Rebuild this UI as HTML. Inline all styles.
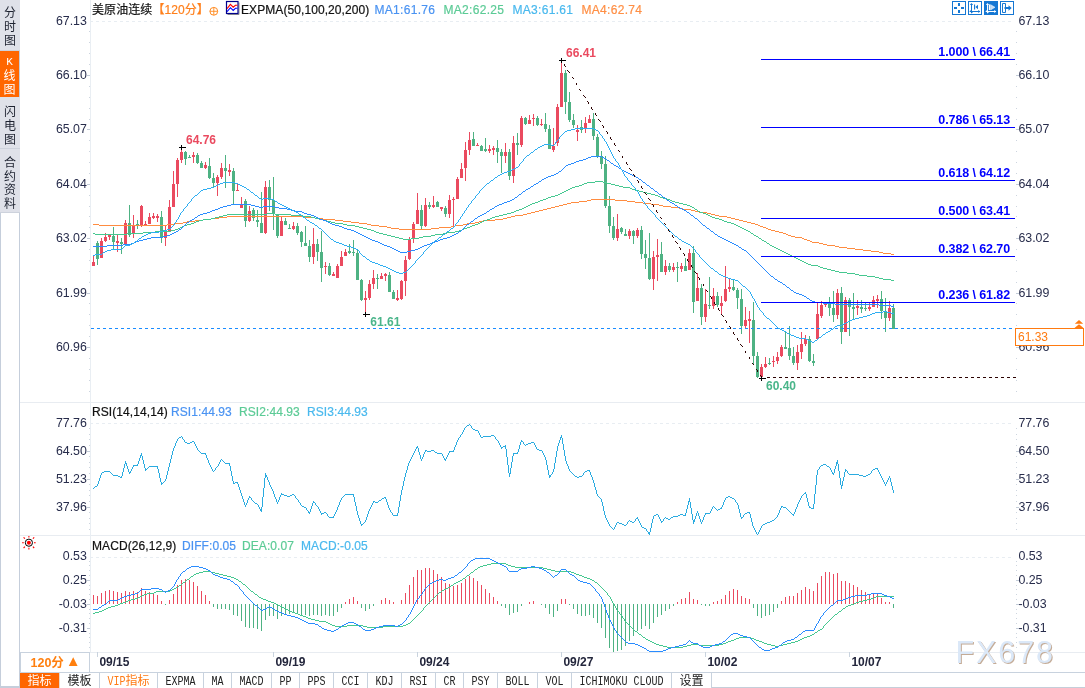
<!DOCTYPE html>
<html lang="zh-CN"><head><meta charset="utf-8"><title>美原油连续 120分</title>
<style>
*{box-sizing:border-box;margin:0;padding:0}
html,body{width:1085px;height:688px;background:#fff;overflow:hidden}
body{position:relative;font-family:"Liberation Sans","Noto Sans CJK SC",sans-serif;color:#111}
#chart{position:absolute;left:0;top:0;width:1085px;height:688px}
#chart text{font-family:"Liberation Sans","Noto Sans CJK SC",sans-serif}
.side{position:absolute;left:0;top:0;width:20px;height:688px;background:#fff;border-left:1px solid #c5cedb;border-right:1px solid #c5cedb;border-bottom:2px solid #c5cedb}
.stab{position:absolute;left:0;width:20px;background:#dfe1e9;color:#1d2230;font-size:12px;line-height:14.2px;text-align:center;border-bottom:1px solid #cdd2dc;font-family:"Liberation Sans","Noto Sans CJK SC",sans-serif}
.stab.on{background:#ff6600;color:#fff;width:19px;border-bottom:0}
.stab span{display:block}
.hdr{position:absolute;top:2.1px;font-size:12px;line-height:16px;white-space:nowrap;letter-spacing:0.08px;-webkit-text-stroke:0.2px currentColor}
.bot{position:absolute;left:20px;top:672px;width:1065px;height:16px;border-top:1px solid #c8d2de;border-bottom:1px solid #c5ced9;background:#fff}
.tab{position:absolute;top:672px;height:16px;font-size:12px;line-height:16px;text-align:center;border-right:1px solid #c8d2de;border-top:1px solid #c8d2de;color:#222;white-space:nowrap;background:#fff;font-family:"Liberation Sans","Noto Sans CJK SC",sans-serif}
.tab .mono{display:inline-block;font-family:"Liberation Mono",monospace;font-size:10px;line-height:15px;transform:translateY(1.5px) scaleY(1.2);transform-origin:50% 60%;vertical-align:top}
.tab.on{background:#ff6600;color:#fff;border-top-color:#ff6600;border-right-color:#e8d8cc}
.tab.vip{color:#ff7a14}
.per{position:absolute;left:20px;top:652px;width:70px;height:21px;border:1px solid #c8d2de;background:#fff;color:#ff7f0e;font-weight:bold;font-size:12.5px;line-height:21px;text-align:left;padding-left:9.5px;white-space:pre}
</style></head><body>
<svg id="chart" width="1085" height="688" viewBox="0 0 1085 688">
<line x1="90" y1="21.5" x2="1014" y2="21.5" stroke="#e8edf2" stroke-width="1" stroke-dasharray="3 3"/>
<line x1="90" y1="423.5" x2="1014" y2="423.5" stroke="#e8edf2" stroke-width="1" stroke-dasharray="3 3"/>
<line x1="90" y1="557.5" x2="1014" y2="557.5" stroke="#e8edf2" stroke-width="1" stroke-dasharray="3 3"/>
<line x1="20" y1="402.5" x2="1085" y2="402.5" stroke="#e8ecf1" stroke-width="1"/>
<line x1="20" y1="535.5" x2="1085" y2="535.5" stroke="#e8ecf1" stroke-width="1"/>
<line x1="20" y1="652.5" x2="1085" y2="652.5" stroke="#e8ecf1" stroke-width="1"/>
<path d="M90 0h1v652h-1z" fill="#e9eef3" shape-rendering="crispEdges"/>
<path d="M89 31h1v1h-1zM1016 31h1v1h-1zM89 42h1v1h-1zM1016 42h1v1h-1zM89 53h1v1h-1zM1016 53h1v1h-1zM89 64h1v1h-1zM1016 64h1v1h-1zM89 86h1v1h-1zM1016 86h1v1h-1zM89 97h1v1h-1zM1016 97h1v1h-1zM89 108h1v1h-1zM1016 108h1v1h-1zM89 119h1v1h-1zM1016 119h1v1h-1zM89 140h1v1h-1zM1016 140h1v1h-1zM89 151h1v1h-1zM1016 151h1v1h-1zM89 162h1v1h-1zM1016 162h1v1h-1zM89 173h1v1h-1zM1016 173h1v1h-1zM89 195h1v1h-1zM1016 195h1v1h-1zM89 206h1v1h-1zM1016 206h1v1h-1zM89 216h1v1h-1zM1016 216h1v1h-1zM89 227h1v1h-1zM1016 227h1v1h-1zM89 249h1v1h-1zM1016 249h1v1h-1zM89 260h1v1h-1zM1016 260h1v1h-1zM89 271h1v1h-1zM1016 271h1v1h-1zM89 282h1v1h-1zM1016 282h1v1h-1zM89 303h1v1h-1zM1016 303h1v1h-1zM89 314h1v1h-1zM1016 314h1v1h-1zM89 325h1v1h-1zM1016 325h1v1h-1zM89 336h1v1h-1zM1016 336h1v1h-1zM89 358h1v1h-1zM1016 358h1v1h-1zM89 369h1v1h-1zM1016 369h1v1h-1zM89 380h1v1h-1zM1016 380h1v1h-1zM89 391h1v1h-1zM1016 391h1v1h-1zM89 428h1v1h-1zM1016 428h1v1h-1zM89 434h1v1h-1zM1016 434h1v1h-1zM89 439h1v1h-1zM1016 439h1v1h-1zM89 445h1v1h-1zM1016 445h1v1h-1zM89 456h1v1h-1zM1016 456h1v1h-1zM89 462h1v1h-1zM1016 462h1v1h-1zM89 467h1v1h-1zM1016 467h1v1h-1zM89 473h1v1h-1zM1016 473h1v1h-1zM89 484h1v1h-1zM1016 484h1v1h-1zM89 490h1v1h-1zM1016 490h1v1h-1zM89 495h1v1h-1zM1016 495h1v1h-1zM89 501h1v1h-1zM1016 501h1v1h-1zM89 512h1v1h-1zM1016 512h1v1h-1zM89 518h1v1h-1zM1016 518h1v1h-1zM89 523h1v1h-1zM1016 523h1v1h-1zM89 529h1v1h-1zM1016 529h1v1h-1zM89 561h1v1h-1zM1016 561h1v1h-1zM89 565h1v1h-1zM1016 565h1v1h-1zM89 570h1v1h-1zM1016 570h1v1h-1zM89 575h1v1h-1zM1016 575h1v1h-1zM89 585h1v1h-1zM1016 585h1v1h-1zM89 589h1v1h-1zM1016 589h1v1h-1zM89 594h1v1h-1zM1016 594h1v1h-1zM89 599h1v1h-1zM1016 599h1v1h-1zM89 609h1v1h-1zM1016 609h1v1h-1zM89 613h1v1h-1zM1016 613h1v1h-1zM89 618h1v1h-1zM1016 618h1v1h-1zM89 623h1v1h-1zM1016 623h1v1h-1zM89 633h1v1h-1zM1016 633h1v1h-1zM89 637h1v1h-1zM1016 637h1v1h-1zM89 642h1v1h-1zM1016 642h1v1h-1zM89 647h1v1h-1zM1016 647h1v1h-1z" fill="#cdd5df" shape-rendering="crispEdges"/>
<path d="M87 75h3v1h-3zM1016 75h3v1h-3zM87 129h3v1h-3zM1016 129h3v1h-3zM87 184h3v1h-3zM1016 184h3v1h-3zM87 238h3v1h-3zM1016 238h3v1h-3zM87 293h3v1h-3zM1016 293h3v1h-3zM87 347h3v1h-3zM1016 347h3v1h-3zM87 451h3v1h-3zM1016 451h3v1h-3zM87 479h3v1h-3zM1016 479h3v1h-3zM87 507h3v1h-3zM1016 507h3v1h-3zM87 580h3v1h-3zM1016 580h3v1h-3zM87 604h3v1h-3zM1016 604h3v1h-3zM87 628h3v1h-3zM1016 628h3v1h-3z" fill="#c3ccd8" shape-rendering="crispEdges"/>
<path d="M97 241h1V265h-1zM96 243h3V259h-3zM113 227h1V249h-1zM112 236h3V242h-3zM121 238h1V254h-1zM120 242h3V244h-3zM129 205h1V237h-1zM128 223h3V235h-3zM137 220h1V229h-1zM136 224h3V225h-3zM161 211h1V243h-1zM160 217h3V237h-3zM185 151h1V165h-1zM184 152h3V159h-3zM189 155h1V158h-1zM188 157h3V158h-3zM197 153h1V164h-1zM196 155h3V163h-3zM201 161h1V168h-1zM200 163h3V168h-3zM209 158h1V179h-1zM208 166h3V178h-3zM213 173h1V187h-1zM212 178h3V183h-3zM225 155h1V188h-1zM224 168h3V171h-3zM233 168h1V204h-1zM232 171h3V191h-3zM245 199h1V227h-1zM244 201h3V221h-3zM253 208h1V221h-1zM252 210h3V218h-3zM257 210h1V227h-1zM256 220h3V222h-3zM261 192h1V233h-1zM260 223h3V233h-3zM269 180h1V211h-1zM268 187h3V200h-3zM273 177h1V230h-1zM272 200h3V214h-3zM277 215h1V238h-1zM276 215h3V236h-3zM285 218h1V225h-1zM284 221h3V225h-3zM289 224h1V229h-1zM288 228h3V229h-3zM297 223h1V235h-1zM296 226h3V233h-3zM301 231h1V247h-1zM300 232h3V242h-3zM305 226h1V246h-1zM304 243h3V246h-3zM309 240h1V262h-1zM308 246h3V257h-3zM317 239h1V261h-1zM316 244h3V252h-3zM321 231h1V282h-1zM320 252h3V268h-3zM329 263h1V276h-1zM328 266h3V275h-3zM349 244h1V254h-1zM348 251h3V253h-3zM353 240h1V256h-1zM352 252h3V253h-3zM357 249h1V280h-1zM356 253h3V280h-3zM361 279h1V301h-1zM360 280h3V300h-3zM377 274h1V289h-1zM376 278h3V279h-3zM389 272h1V292h-1zM388 275h3V292h-3zM393 290h1V299h-1zM392 292h3V299h-3zM421 205h1V229h-1zM420 210h3V226h-3zM429 202h1V209h-1zM428 205h3V207h-3zM437 201h1V207h-1zM436 202h3V207h-3zM445 206h1V217h-1zM444 208h3V214h-3zM473 132h1V146h-1zM472 139h3V146h-3zM481 145h1V151h-1zM480 146h3V151h-3zM485 138h1V152h-1zM484 149h3V151h-3zM497 140h1V163h-1zM496 148h3V152h-3zM501 149h1V173h-1zM500 152h3V156h-3zM509 149h1V180h-1zM508 152h3V176h-3zM517 133h1V155h-1zM516 143h3V145h-3zM525 117h1V125h-1zM524 118h3V124h-3zM537 116h1V126h-1zM536 118h3V125h-3zM545 113h1V132h-1zM544 124h3V129h-3zM549 125h1V149h-1zM548 129h3V149h-3zM565 70h1V114h-1zM564 73h3V102h-3zM569 92h1V122h-1zM568 102h3V120h-3zM573 114h1V128h-1zM572 120h3V125h-3zM581 120h1V133h-1zM580 127h3V130h-3zM593 113h1V140h-1zM592 119h3V136h-3zM597 134h1V158h-1zM596 137h3V156h-3zM601 151h1V169h-1zM600 156h3V164h-3zM605 156h1V208h-1zM604 164h3V206h-3zM609 196h1V233h-1zM608 206h3V226h-3zM613 217h1V240h-1zM612 226h3V238h-3zM621 227h1V234h-1zM620 228h3V232h-3zM625 229h1V236h-1zM624 234h3V236h-3zM633 230h1V244h-1zM632 231h3V236h-3zM641 226h1V259h-1zM640 230h3V254h-3zM645 240h1V269h-1zM644 254h3V258h-3zM649 233h1V280h-1zM648 258h3V279h-3zM661 242h1V272h-1zM660 254h3V272h-3zM669 263h1V272h-1zM668 266h3V270h-3zM677 262h1V282h-1zM676 267h3V268h-3zM685 258h1V271h-1zM684 266h3V271h-3zM693 246h1V313h-1zM692 253h3V302h-3zM701 284h1V325h-1zM700 288h3V317h-3zM709 277h1V309h-1zM708 305h3V306h-3zM717 292h1V307h-1zM716 296h3V305h-3zM733 280h1V291h-1zM732 287h3V290h-3zM737 288h1V309h-1zM736 290h3V298h-3zM741 289h1V334h-1zM740 299h3V326h-3zM753 302h1V365h-1zM752 320h3V356h-3zM757 352h1V378h-1zM756 356h3V377h-3zM769 358h1V365h-1zM768 363h3V364h-3zM785 331h1V349h-1zM784 347h3V349h-3zM789 326h1V360h-1zM788 348h3V356h-3zM793 347h1V365h-1zM792 356h3V363h-3zM809 336h1V362h-1zM808 339h3V361h-3zM813 354h1V366h-1zM812 361h3V363h-3zM829 297h1V316h-1zM828 302h3V308h-3zM833 291h1V322h-1zM832 308h3V315h-3zM841 287h1V344h-1zM840 293h3V332h-3zM849 298h1V336h-1zM848 300h3V307h-3zM853 293h1V319h-1zM852 307h3V309h-3zM861 300h1V313h-1zM860 307h3V309h-3zM865 303h1V311h-1zM864 308h3V309h-3zM881 291h1V319h-1zM880 299h3V311h-3zM885 298h1V332h-1zM884 311h3V318h-3zM893 304h1V329h-1zM892 308h3V329h-3z" fill="#4eb283" shape-rendering="crispEdges"/>
<path d="M93 256h1V266h-1zM92 262h3V266h-3zM101 238h1V258h-1zM100 241h3V258h-3zM105 233h1V242h-1zM104 237h3V241h-3zM109 235h1V240h-1zM108 235h3V237h-3zM117 235h1V252h-1zM116 241h3V243h-3zM125 220h1V246h-1zM124 223h3V245h-3zM133 215h1V238h-1zM132 226h3V234h-3zM141 205h1V227h-1zM140 206h3V226h-3zM145 221h1V226h-1zM144 224h3V226h-3zM149 213h1V224h-1zM148 217h3V224h-3zM153 213h1V219h-1zM152 216h3V218h-3zM157 214h1V222h-1zM156 216h3V218h-3zM165 226h1V246h-1zM164 231h3V238h-3zM169 200h1V232h-1zM168 207h3V232h-3zM173 171h1V207h-1zM172 184h3V207h-3zM177 158h1V197h-1zM176 160h3V184h-3zM181 148h1V163h-1zM180 152h3V160h-3zM193 152h1V163h-1zM192 155h3V157h-3zM205 162h1V169h-1zM204 165h3V168h-3zM217 175h1V196h-1zM216 177h3V183h-3zM221 163h1V179h-1zM220 168h3V177h-3zM229 164h1V176h-1zM228 170h3V172h-3zM237 184h1V191h-1zM236 190h3V191h-3zM241 197h1V208h-1zM240 204h3V208h-3zM249 206h1V222h-1zM248 211h3V221h-3zM265 181h1V234h-1zM264 187h3V233h-3zM281 217h1V236h-1zM280 221h3V236h-3zM293 222h1V230h-1zM292 226h3V229h-3zM313 228h1V264h-1zM312 244h3V257h-3zM325 262h1V274h-1zM324 266h3V267h-3zM333 272h1V276h-1zM332 274h3V276h-3zM337 264h1V278h-1zM336 266h3V278h-3zM341 251h1V266h-1zM340 257h3V266h-3zM345 249h1V256h-1zM344 252h3V256h-3zM365 291h1V314h-1zM364 298h3V300h-3zM369 280h1V300h-1zM368 284h3V298h-3zM373 270h1V289h-1zM372 278h3V284h-3zM381 273h1V279h-1zM380 276h3V279h-3zM385 273h1V281h-1zM384 274h3V276h-3zM397 290h1V301h-1zM396 298h3V300h-3zM401 280h1V300h-1zM400 281h3V299h-3zM405 256h1V296h-1zM404 260h3V281h-3zM409 237h1V260h-1zM408 240h3V259h-3zM413 222h1V243h-1zM412 224h3V239h-3zM417 193h1V224h-1zM416 210h3V224h-3zM425 198h1V227h-1zM424 205h3V226h-3zM433 196h1V208h-1zM432 205h3V207h-3zM441 207h1V211h-1zM440 207h3V209h-3zM449 195h1V218h-1zM448 200h3V214h-3zM453 197h1V227h-1zM452 199h3V200h-3zM457 177h1V199h-1zM456 179h3V199h-3zM461 163h1V178h-1zM460 169h3V178h-3zM465 142h1V181h-1zM464 150h3V168h-3zM469 132h1V155h-1zM468 140h3V150h-3zM477 143h1V146h-1zM476 145h3V146h-3zM489 145h1V153h-1zM488 149h3V151h-3zM493 146h1V155h-1zM492 148h3V150h-3zM505 143h1V163h-1zM504 152h3V156h-3zM513 136h1V183h-1zM512 143h3V176h-3zM521 116h1V147h-1zM520 118h3V145h-3zM529 115h1V124h-1zM528 120h3V124h-3zM533 114h1V126h-1zM532 118h3V119h-3zM541 119h1V126h-1zM540 124h3V125h-3zM553 128h1V152h-1zM552 146h3V150h-3zM557 104h1V146h-1zM556 107h3V143h-3zM561 60h1V107h-1zM560 73h3V107h-3zM577 125h1V141h-1zM576 130h3V132h-3zM585 117h1V133h-1zM584 123h3V129h-3zM589 115h1V123h-1zM588 119h3V123h-3zM617 214h1V241h-1zM616 229h3V238h-3zM629 229h1V239h-1zM628 231h3V236h-3zM637 228h1V238h-1zM636 230h3V236h-3zM653 251h1V290h-1zM652 257h3V279h-3zM657 239h1V281h-1zM656 255h3V257h-3zM665 260h1V275h-1zM664 266h3V272h-3zM673 263h1V272h-1zM672 267h3V270h-3zM681 263h1V272h-1zM680 266h3V269h-3zM689 249h1V270h-1zM688 253h3V270h-3zM697 273h1V301h-1zM696 288h3V301h-3zM705 289h1V322h-1zM704 304h3V317h-3zM713 288h1V309h-1zM712 296h3V306h-3zM721 296h1V315h-1zM720 303h3V306h-3zM725 266h1V302h-1zM724 289h3V301h-3zM729 279h1V292h-1zM728 287h3V289h-3zM745 307h1V328h-1zM744 320h3V326h-3zM749 311h1V343h-1zM748 319h3V321h-3zM761 364h1V378h-1zM760 367h3V377h-3zM765 357h1V368h-1zM764 364h3V367h-3zM773 356h1V367h-1zM772 361h3V362h-3zM777 352h1V364h-1zM776 357h3V361h-3zM781 345h1V357h-1zM780 347h3V356h-3zM797 345h1V370h-1zM796 352h3V363h-3zM801 332h1V359h-1zM800 344h3V352h-3zM805 335h1V346h-1zM804 339h3V344h-3zM817 303h1V339h-1zM816 314h3V339h-3zM821 301h1V318h-1zM820 305h3V316h-3zM825 303h1V307h-1zM824 304h3V305h-3zM837 289h1V319h-1zM836 293h3V315h-3zM845 297h1V332h-1zM844 300h3V332h-3zM857 300h1V315h-1zM856 306h3V308h-3zM869 303h1V311h-1zM868 307h3V309h-3zM873 296h1V307h-1zM872 300h3V307h-3zM877 295h1V308h-1zM876 299h3V301h-3zM889 301h1V321h-1zM888 308h3V318h-3z" fill="#ea4a5f" shape-rendering="crispEdges"/>
<path d="M591 199h24v1h-24zM587 200h4v1h-4zM615 200h12v1h-12zM579 201h8v1h-8zM627 201h8v1h-8zM571 202h8v1h-8zM635 202h8v1h-8zM567 203h4v1h-4zM643 203h8v1h-8zM563 204h4v1h-4zM651 204h8v1h-8zM559 205h4v1h-4zM659 205h4v1h-4zM555 206h4v1h-4zM663 206h8v1h-8zM551 207h4v1h-4zM671 207h8v1h-8zM547 208h4v1h-4zM679 208h4v1h-4zM543 209h4v1h-4zM683 209h8v1h-8zM539 210h4v1h-4zM691 210h4v1h-4zM535 211h4v1h-4zM695 211h4v1h-4zM531 212h4v1h-4zM699 212h8v1h-8zM527 213h4v1h-4zM707 213h4v1h-4zM523 214h4v1h-4zM711 214h4v1h-4zM515 215h8v1h-8zM715 215h4v1h-4zM227 216h76v1h-76zM511 216h4v1h-4zM719 216h8v1h-8zM219 217h8v1h-8zM303 217h12v1h-12zM507 217h4v1h-4zM727 217h4v1h-4zM211 218h8v1h-8zM315 218h8v1h-8zM503 218h4v1h-4zM731 218h4v1h-4zM203 219h8v1h-8zM323 219h12v1h-12zM495 219h8v1h-8zM735 219h4v1h-4zM195 220h8v1h-8zM335 220h8v1h-8zM483 220h12v1h-12zM739 220h4v1h-4zM187 221h8v1h-8zM343 221h8v1h-8zM479 221h4v1h-4zM743 221h4v1h-4zM183 222h4v1h-4zM351 222h8v1h-8zM475 222h4v1h-4zM747 222h4v1h-4zM175 223h8v1h-8zM359 223h8v1h-8zM467 223h8v1h-8zM751 223h4v1h-4zM93 224h6v1h-6zM167 224h8v1h-8zM367 224h4v1h-4zM463 224h4v1h-4zM755 224h3v1h-3zM99 225h68v1h-68zM371 225h8v1h-8zM455 225h8v1h-8zM758 225h2v1h-2zM379 226h8v1h-8zM451 226h4v1h-4zM760 226h3v1h-3zM387 227h4v1h-4zM439 227h12v1h-12zM763 227h3v1h-3zM391 228h8v1h-8zM431 228h8v1h-8zM766 228h2v1h-2zM399 229h32v1h-32zM768 229h3v1h-3zM771 230h4v1h-4zM775 231h4v1h-4zM779 232h4v1h-4zM783 233h3v1h-3zM786 234h2v1h-2zM788 235h3v1h-3zM791 236h4v1h-4zM795 237h7v1h-7zM802 238h2v1h-2zM804 239h3v1h-3zM807 240h3v1h-3zM810 241h2v1h-2zM812 242h7v1h-7zM819 243h4v1h-4zM823 244h4v1h-4zM827 245h8v1h-8zM835 246h4v1h-4zM839 247h8v1h-8zM847 248h8v1h-8zM855 249h8v1h-8zM863 250h8v1h-8zM871 251h8v1h-8zM879 252h4v1h-4zM883 253h8v1h-8zM891 254h3v1h-3z" fill="#ff8c40" shape-rendering="crispEdges"/>
<path d="M595 181h8v1h-8zM587 182h8v1h-8zM603 182h4v1h-4zM584 183h3v1h-3zM607 183h4v1h-4zM582 184h2v1h-2zM611 184h4v1h-4zM579 185h3v1h-3zM615 185h4v1h-4zM575 186h4v1h-4zM619 186h4v1h-4zM572 187h3v1h-3zM623 187h7v1h-7zM570 188h2v1h-2zM630 188h2v1h-2zM568 189h2v1h-2zM632 189h3v1h-3zM566 190h2v1h-2zM635 190h4v1h-4zM564 191h2v1h-2zM639 191h4v1h-4zM562 192h2v1h-2zM643 192h4v1h-4zM560 193h2v1h-2zM647 193h4v1h-4zM558 194h2v1h-2zM651 194h4v1h-4zM555 195h3v1h-3zM655 195h3v1h-3zM551 196h4v1h-4zM658 196h2v1h-2zM548 197h3v1h-3zM660 197h3v1h-3zM546 198h2v1h-2zM663 198h4v1h-4zM543 199h3v1h-3zM667 199h3v1h-3zM540 200h3v1h-3zM670 200h2v1h-2zM538 201h2v1h-2zM672 201h3v1h-3zM535 202h3v1h-3zM675 202h4v1h-4zM532 203h3v1h-3zM679 203h4v1h-4zM530 204h2v1h-2zM683 204h4v1h-4zM528 205h2v1h-2zM687 205h3v1h-3zM526 206h2v1h-2zM690 206h2v1h-2zM524 207h2v1h-2zM692 207h2v1h-2zM522 208h2v1h-2zM694 208h1v1h-1zM519 209h3v1h-3zM695 209h2v1h-2zM516 210h3v1h-3zM697 210h1v1h-1zM514 211h2v1h-2zM698 211h2v1h-2zM511 212h3v1h-3zM700 212h3v1h-3zM267 213h8v1h-8zM507 213h4v1h-4zM703 213h3v1h-3zM227 214h40v1h-40zM275 214h16v1h-16zM503 214h4v1h-4zM706 214h2v1h-2zM223 215h4v1h-4zM291 215h12v1h-12zM499 215h4v1h-4zM708 215h2v1h-2zM219 216h4v1h-4zM303 216h8v1h-8zM495 216h4v1h-4zM710 216h2v1h-2zM215 217h4v1h-4zM311 217h4v1h-4zM492 217h3v1h-3zM712 217h3v1h-3zM211 218h4v1h-4zM315 218h4v1h-4zM490 218h2v1h-2zM715 218h4v1h-4zM203 219h8v1h-8zM319 219h4v1h-4zM487 219h3v1h-3zM719 219h3v1h-3zM199 220h4v1h-4zM323 220h4v1h-4zM484 220h3v1h-3zM722 220h2v1h-2zM196 221h3v1h-3zM327 221h4v1h-4zM482 221h2v1h-2zM724 221h3v1h-3zM194 222h2v1h-2zM331 222h4v1h-4zM480 222h2v1h-2zM727 222h4v1h-4zM191 223h3v1h-3zM335 223h8v1h-8zM478 223h2v1h-2zM731 223h3v1h-3zM187 224h4v1h-4zM343 224h4v1h-4zM475 224h3v1h-3zM734 224h2v1h-2zM184 225h3v1h-3zM347 225h8v1h-8zM472 225h3v1h-3zM736 225h2v1h-2zM182 226h2v1h-2zM355 226h4v1h-4zM470 226h2v1h-2zM738 226h2v1h-2zM180 227h2v1h-2zM359 227h4v1h-4zM467 227h3v1h-3zM740 227h2v1h-2zM178 228h2v1h-2zM363 228h4v1h-4zM464 228h3v1h-3zM742 228h2v1h-2zM175 229h3v1h-3zM367 229h4v1h-4zM462 229h2v1h-2zM744 229h2v1h-2zM171 230h4v1h-4zM371 230h3v1h-3zM459 230h3v1h-3zM746 230h2v1h-2zM155 231h16v1h-16zM374 231h2v1h-2zM455 231h4v1h-4zM748 231h2v1h-2zM143 232h12v1h-12zM376 232h3v1h-3zM447 232h8v1h-8zM750 232h1v1h-1zM93 233h2v1h-2zM127 233h16v1h-16zM379 233h4v1h-4zM443 233h4v1h-4zM751 233h2v1h-2zM95 234h32v1h-32zM383 234h4v1h-4zM435 234h8v1h-8zM753 234h1v1h-1zM387 235h4v1h-4zM431 235h4v1h-4zM754 235h2v1h-2zM391 236h4v1h-4zM423 236h8v1h-8zM756 236h2v1h-2zM395 237h4v1h-4zM419 237h4v1h-4zM758 237h1v1h-1zM399 238h4v1h-4zM411 238h8v1h-8zM759 238h2v1h-2zM403 239h8v1h-8zM761 239h1v1h-1zM762 240h2v1h-2zM764 241h2v1h-2zM766 242h1v1h-1zM767 243h2v1h-2zM769 244h1v1h-1zM770 245h2v1h-2zM772 246h2v1h-2zM774 247h2v1h-2zM776 248h2v1h-2zM778 249h2v1h-2zM780 250h2v1h-2zM782 251h2v1h-2zM784 252h2v1h-2zM786 253h2v1h-2zM788 254h2v1h-2zM790 255h2v1h-2zM792 256h2v1h-2zM794 257h2v1h-2zM796 258h2v1h-2zM798 259h2v1h-2zM800 260h2v1h-2zM802 261h2v1h-2zM804 262h2v1h-2zM806 263h2v1h-2zM808 264h3v1h-3zM811 265h7v1h-7zM818 266h2v1h-2zM820 267h3v1h-3zM823 268h4v1h-4zM827 269h4v1h-4zM831 270h4v1h-4zM835 271h4v1h-4zM839 272h8v1h-8zM847 273h8v1h-8zM855 274h4v1h-4zM859 275h8v1h-8zM867 276h8v1h-8zM875 277h4v1h-4zM879 278h4v1h-4zM883 279h8v1h-8zM891 280h3v1h-3z" fill="#45c890" shape-rendering="crispEdges"/>
<path d="M591 156h11v1h-11zM588 157h3v1h-3zM602 157h2v1h-2zM586 158h2v1h-2zM604 158h2v1h-2zM583 159h3v1h-3zM606 159h1v1h-1zM579 160h4v1h-4zM607 160h2v1h-2zM576 161h3v1h-3zM609 161h1v1h-1zM574 162h2v1h-2zM610 162h1v1h-1zM571 163h3v1h-3zM611 163h2v1h-2zM568 164h3v1h-3zM613 164h1v1h-1zM566 165h2v1h-2zM614 165h2v1h-2zM565 166h1v1h-1zM616 166h2v1h-2zM564 167h1v1h-1zM618 167h1v1h-1zM563 168h1v1h-1zM619 168h2v1h-2zM562 169h1v1h-1zM621 169h1v1h-1zM561 170h1v1h-1zM622 170h2v1h-2zM559 171h2v1h-2zM624 171h2v1h-2zM558 172h1v1h-1zM626 172h2v1h-2zM556 173h2v1h-2zM628 173h2v1h-2zM554 174h2v1h-2zM630 174h2v1h-2zM551 175h3v1h-3zM632 175h2v1h-2zM548 176h3v1h-3zM634 176h2v1h-2zM546 177h2v1h-2zM636 177h2v1h-2zM544 178h2v1h-2zM638 178h1v1h-1zM542 179h2v1h-2zM639 179h2v1h-2zM541 180h1v1h-1zM641 180h1v1h-1zM539 181h2v1h-2zM642 181h1v1h-1zM538 182h1v1h-1zM643 182h2v1h-2zM536 183h2v1h-2zM645 183h1v1h-1zM534 184h2v1h-2zM646 184h1v1h-1zM533 185h1v1h-1zM647 185h2v1h-2zM531 186h2v1h-2zM649 186h1v1h-1zM530 187h1v1h-1zM650 187h1v1h-1zM528 188h2v1h-2zM651 188h2v1h-2zM526 189h2v1h-2zM653 189h1v1h-1zM525 190h1v1h-1zM654 190h1v1h-1zM523 191h2v1h-2zM655 191h2v1h-2zM522 192h1v1h-1zM657 192h1v1h-1zM521 193h1v1h-1zM658 193h1v1h-1zM519 194h2v1h-2zM659 194h2v1h-2zM518 195h1v1h-1zM661 195h1v1h-1zM517 196h1v1h-1zM662 196h1v1h-1zM515 197h2v1h-2zM663 197h2v1h-2zM514 198h1v1h-1zM665 198h1v1h-1zM512 199h2v1h-2zM666 199h1v1h-1zM510 200h2v1h-2zM667 200h2v1h-2zM507 201h3v1h-3zM669 201h1v1h-1zM504 202h3v1h-3zM670 202h2v1h-2zM502 203h2v1h-2zM672 203h2v1h-2zM231 204h20v1h-20zM499 204h3v1h-3zM674 204h1v1h-1zM227 205h4v1h-4zM251 205h4v1h-4zM497 205h2v1h-2zM675 205h2v1h-2zM223 206h4v1h-4zM255 206h4v1h-4zM263 206h12v1h-12zM495 206h2v1h-2zM677 206h1v1h-1zM220 207h3v1h-3zM259 207h4v1h-4zM275 207h4v1h-4zM494 207h1v1h-1zM678 207h2v1h-2zM218 208h2v1h-2zM279 208h8v1h-8zM492 208h2v1h-2zM680 208h2v1h-2zM215 209h3v1h-3zM287 209h4v1h-4zM490 209h2v1h-2zM682 209h2v1h-2zM212 210h3v1h-3zM291 210h4v1h-4zM489 210h1v1h-1zM684 210h2v1h-2zM210 211h2v1h-2zM295 211h7v1h-7zM487 211h2v1h-2zM686 211h1v1h-1zM207 212h3v1h-3zM302 212h2v1h-2zM486 212h1v1h-1zM687 212h2v1h-2zM203 213h4v1h-4zM304 213h3v1h-3zM484 213h2v1h-2zM689 213h1v1h-1zM200 214h3v1h-3zM307 214h4v1h-4zM482 214h2v1h-2zM690 214h1v1h-1zM198 215h2v1h-2zM311 215h3v1h-3zM480 215h2v1h-2zM691 215h2v1h-2zM197 216h1v1h-1zM314 216h2v1h-2zM478 216h2v1h-2zM693 216h1v1h-1zM195 217h2v1h-2zM316 217h2v1h-2zM477 217h1v1h-1zM694 217h1v1h-1zM194 218h1v1h-1zM318 218h2v1h-2zM475 218h2v1h-2zM695 218h2v1h-2zM192 219h2v1h-2zM320 219h3v1h-3zM474 219h1v1h-1zM697 219h1v1h-1zM190 220h2v1h-2zM323 220h3v1h-3zM473 220h1v1h-1zM698 220h1v1h-1zM189 221h1v1h-1zM326 221h2v1h-2zM471 221h2v1h-2zM699 221h1v1h-1zM187 222h2v1h-2zM328 222h2v1h-2zM470 222h1v1h-1zM700 222h1v1h-1zM186 223h1v1h-1zM330 223h2v1h-2zM469 223h1v1h-1zM701 223h1v1h-1zM185 224h1v1h-1zM332 224h3v1h-3zM467 224h2v1h-2zM702 224h1v1h-1zM184 225h1v1h-1zM335 225h4v1h-4zM466 225h1v1h-1zM703 225h2v1h-2zM183 226h1v1h-1zM339 226h3v1h-3zM465 226h1v1h-1zM705 226h1v1h-1zM182 227h1v1h-1zM342 227h2v1h-2zM464 227h1v1h-1zM706 227h1v1h-1zM181 228h1v1h-1zM344 228h3v1h-3zM463 228h1v1h-1zM707 228h2v1h-2zM179 229h2v1h-2zM347 229h4v1h-4zM462 229h1v1h-1zM709 229h1v1h-1zM178 230h1v1h-1zM351 230h3v1h-3zM461 230h1v1h-1zM710 230h1v1h-1zM176 231h2v1h-2zM354 231h2v1h-2zM459 231h2v1h-2zM711 231h2v1h-2zM174 232h2v1h-2zM356 232h2v1h-2zM458 232h1v1h-1zM713 232h1v1h-1zM172 233h2v1h-2zM358 233h2v1h-2zM456 233h2v1h-2zM714 233h1v1h-1zM170 234h2v1h-2zM360 234h2v1h-2zM454 234h2v1h-2zM715 234h2v1h-2zM167 235h3v1h-3zM362 235h2v1h-2zM452 235h2v1h-2zM717 235h1v1h-1zM163 236h4v1h-4zM364 236h2v1h-2zM450 236h2v1h-2zM718 236h2v1h-2zM151 237h12v1h-12zM366 237h2v1h-2zM447 237h3v1h-3zM720 237h2v1h-2zM147 238h4v1h-4zM368 238h2v1h-2zM443 238h4v1h-4zM722 238h2v1h-2zM143 239h4v1h-4zM370 239h2v1h-2zM440 239h3v1h-3zM724 239h2v1h-2zM139 240h4v1h-4zM372 240h3v1h-3zM438 240h2v1h-2zM726 240h2v1h-2zM136 241h3v1h-3zM375 241h3v1h-3zM435 241h3v1h-3zM728 241h2v1h-2zM134 242h2v1h-2zM378 242h2v1h-2zM432 242h3v1h-3zM730 242h2v1h-2zM131 243h3v1h-3zM380 243h2v1h-2zM430 243h2v1h-2zM732 243h2v1h-2zM123 244h8v1h-8zM382 244h2v1h-2zM427 244h3v1h-3zM734 244h2v1h-2zM107 245h16v1h-16zM384 245h3v1h-3zM424 245h3v1h-3zM736 245h2v1h-2zM93 246h14v1h-14zM387 246h3v1h-3zM422 246h2v1h-2zM738 246h1v1h-1zM390 247h2v1h-2zM420 247h2v1h-2zM739 247h2v1h-2zM392 248h2v1h-2zM418 248h2v1h-2zM741 248h1v1h-1zM394 249h2v1h-2zM415 249h3v1h-3zM742 249h2v1h-2zM396 250h2v1h-2zM411 250h4v1h-4zM744 250h2v1h-2zM398 251h2v1h-2zM407 251h4v1h-4zM746 251h1v1h-1zM400 252h7v1h-7zM747 252h1v1h-1zM748 253h1v1h-1zM749 254h1v1h-1zM750 255h1v1h-1zM751 256h1v1h-1zM752 257h1v1h-1zM753 258h1v1h-1zM754 259h1v1h-1zM755 260h1v1h-1zM756 261h1v1h-1zM757 262h1v1h-1zM758 263h1v1h-1zM759 264h1v1h-1zM760 265h1v1h-1zM761 266h1v1h-1zM762 267h1v1h-1zM763 268h1v1h-1zM764 269h1v1h-1zM765 270h1v1h-1zM766 271h1v1h-1zM767 272h1v1h-1zM768 273h1v1h-1zM769 274h1v1h-1zM770 275h1v1h-1zM771 276h2v1h-2zM773 277h1v1h-1zM774 278h1v1h-1zM775 279h2v1h-2zM777 280h1v1h-1zM778 281h2v1h-2zM780 282h2v1h-2zM782 283h1v1h-1zM783 284h2v1h-2zM785 285h1v1h-1zM786 286h1v1h-1zM787 287h2v1h-2zM789 288h1v1h-1zM790 289h1v1h-1zM791 290h2v1h-2zM793 291h1v1h-1zM794 292h2v1h-2zM796 293h3v1h-3zM799 294h3v1h-3zM802 295h2v1h-2zM804 296h2v1h-2zM806 297h1v1h-1zM807 298h2v1h-2zM809 299h1v1h-1zM810 300h2v1h-2zM812 301h3v1h-3zM815 302h8v1h-8zM823 303h12v1h-12zM835 304h44v1h-44zM879 305h12v1h-12zM891 306h3v1h-3z" fill="#2a8cff" shape-rendering="crispEdges"/>
<path d="M575 128h19v1h-19zM571 129h4v1h-4zM594 129h2v1h-2zM567 130h4v1h-4zM596 130h2v1h-2zM565 131h2v1h-2zM598 131h1v1h-1zM564 132h1v1h-1zM599 132h1v1h-1zM563 133h1v1h-1zM599 133h1v1h-1zM562 134h1v1h-1zM600 134h1v1h-1zM561 135h1v1h-1zM601 135h1v1h-1zM560 136h1v1h-1zM602 136h1v1h-1zM559 137h1v1h-1zM602 137h1v1h-1zM559 138h1v1h-1zM603 138h1v1h-1zM558 139h1v1h-1zM604 139h1v1h-1zM557 140h1v1h-1zM604 140h1v1h-1zM556 141h1v1h-1zM605 141h1v1h-1zM555 142h1v1h-1zM606 142h1v1h-1zM555 143h1v1h-1zM606 143h1v1h-1zM544 144h7v1h-7zM554 144h1v1h-1zM607 144h1v1h-1zM542 145h2v1h-2zM551 145h3v1h-3zM607 145h1v1h-1zM540 146h2v1h-2zM608 146h1v1h-1zM538 147h2v1h-2zM608 147h1v1h-1zM537 148h1v1h-1zM609 148h1v1h-1zM535 149h2v1h-2zM609 149h1v1h-1zM534 150h1v1h-1zM610 150h1v1h-1zM533 151h1v1h-1zM610 151h1v1h-1zM531 152h2v1h-2zM611 152h1v1h-1zM530 153h1v1h-1zM611 153h1v1h-1zM529 154h1v1h-1zM612 154h1v1h-1zM527 155h2v1h-2zM612 155h1v1h-1zM526 156h1v1h-1zM613 156h1v1h-1zM525 157h1v1h-1zM613 157h1v1h-1zM524 158h1v1h-1zM614 158h1v1h-1zM523 159h1v1h-1zM615 159h1v1h-1zM523 160h1v1h-1zM615 160h1v1h-1zM522 161h1v1h-1zM616 161h1v1h-1zM521 162h1v1h-1zM617 162h1v1h-1zM520 163h1v1h-1zM618 163h1v1h-1zM519 164h1v1h-1zM618 164h1v1h-1zM519 165h1v1h-1zM619 165h1v1h-1zM518 166h1v1h-1zM619 166h1v1h-1zM516 167h2v1h-2zM620 167h1v1h-1zM514 168h2v1h-2zM620 168h1v1h-1zM512 169h2v1h-2zM621 169h1v1h-1zM510 170h2v1h-2zM622 170h1v1h-1zM507 171h3v1h-3zM622 171h1v1h-1zM504 172h3v1h-3zM623 172h1v1h-1zM502 173h2v1h-2zM623 173h1v1h-1zM500 174h2v1h-2zM624 174h1v1h-1zM498 175h2v1h-2zM624 175h1v1h-1zM497 176h1v1h-1zM625 176h1v1h-1zM495 177h2v1h-2zM626 177h1v1h-1zM494 178h1v1h-1zM627 178h1v1h-1zM493 179h1v1h-1zM627 179h1v1h-1zM491 180h2v1h-2zM628 180h1v1h-1zM490 181h1v1h-1zM629 181h1v1h-1zM223 182h12v1h-12zM489 182h1v1h-1zM630 182h1v1h-1zM220 183h3v1h-3zM235 183h3v1h-3zM487 183h2v1h-2zM631 183h1v1h-1zM218 184h2v1h-2zM238 184h2v1h-2zM486 184h1v1h-1zM631 184h1v1h-1zM216 185h2v1h-2zM240 185h2v1h-2zM485 185h1v1h-1zM632 185h1v1h-1zM214 186h2v1h-2zM242 186h2v1h-2zM484 186h1v1h-1zM633 186h1v1h-1zM211 187h3v1h-3zM244 187h2v1h-2zM483 187h1v1h-1zM634 187h1v1h-1zM207 188h4v1h-4zM246 188h1v1h-1zM482 188h1v1h-1zM635 188h1v1h-1zM203 189h4v1h-4zM247 189h2v1h-2zM481 189h1v1h-1zM635 189h1v1h-1zM201 190h2v1h-2zM249 190h1v1h-1zM480 190h1v1h-1zM636 190h1v1h-1zM200 191h1v1h-1zM250 191h1v1h-1zM479 191h1v1h-1zM637 191h1v1h-1zM199 192h1v1h-1zM251 192h2v1h-2zM479 192h1v1h-1zM638 192h1v1h-1zM198 193h1v1h-1zM253 193h1v1h-1zM478 193h1v1h-1zM638 193h1v1h-1zM197 194h1v1h-1zM254 194h1v1h-1zM477 194h1v1h-1zM639 194h1v1h-1zM195 195h2v1h-2zM255 195h2v1h-2zM476 195h1v1h-1zM639 195h1v1h-1zM194 196h1v1h-1zM257 196h1v1h-1zM475 196h1v1h-1zM640 196h1v1h-1zM193 197h1v1h-1zM258 197h1v1h-1zM475 197h1v1h-1zM640 197h1v1h-1zM192 198h1v1h-1zM259 198h2v1h-2zM263 198h8v1h-8zM474 198h1v1h-1zM641 198h1v1h-1zM191 199h1v1h-1zM261 199h2v1h-2zM271 199h3v1h-3zM473 199h1v1h-1zM642 199h1v1h-1zM191 200h1v1h-1zM274 200h1v1h-1zM472 200h1v1h-1zM642 200h1v1h-1zM190 201h1v1h-1zM275 201h2v1h-2zM471 201h1v1h-1zM643 201h1v1h-1zM189 202h1v1h-1zM277 202h1v1h-1zM471 202h1v1h-1zM644 202h1v1h-1zM188 203h1v1h-1zM278 203h2v1h-2zM470 203h1v1h-1zM644 203h1v1h-1zM187 204h1v1h-1zM280 204h2v1h-2zM469 204h1v1h-1zM645 204h1v1h-1zM187 205h1v1h-1zM282 205h2v1h-2zM468 205h1v1h-1zM646 205h1v1h-1zM186 206h1v1h-1zM284 206h2v1h-2zM468 206h1v1h-1zM647 206h1v1h-1zM185 207h1v1h-1zM286 207h2v1h-2zM467 207h1v1h-1zM647 207h1v1h-1zM184 208h1v1h-1zM288 208h2v1h-2zM466 208h1v1h-1zM648 208h1v1h-1zM183 209h1v1h-1zM290 209h2v1h-2zM466 209h1v1h-1zM649 209h1v1h-1zM183 210h1v1h-1zM292 210h2v1h-2zM465 210h1v1h-1zM650 210h1v1h-1zM182 211h1v1h-1zM294 211h2v1h-2zM464 211h1v1h-1zM651 211h1v1h-1zM181 212h1v1h-1zM296 212h2v1h-2zM464 212h1v1h-1zM652 212h1v1h-1zM180 213h1v1h-1zM298 213h1v1h-1zM463 213h1v1h-1zM653 213h1v1h-1zM180 214h1v1h-1zM299 214h2v1h-2zM462 214h1v1h-1zM654 214h1v1h-1zM179 215h1v1h-1zM301 215h1v1h-1zM462 215h1v1h-1zM655 215h1v1h-1zM179 216h1v1h-1zM302 216h1v1h-1zM461 216h1v1h-1zM655 216h1v1h-1zM178 217h1v1h-1zM303 217h2v1h-2zM460 217h1v1h-1zM656 217h1v1h-1zM178 218h1v1h-1zM305 218h1v1h-1zM460 218h1v1h-1zM657 218h1v1h-1zM177 219h1v1h-1zM306 219h1v1h-1zM459 219h1v1h-1zM658 219h1v1h-1zM176 220h1v1h-1zM307 220h2v1h-2zM458 220h1v1h-1zM659 220h1v1h-1zM176 221h1v1h-1zM309 221h1v1h-1zM458 221h1v1h-1zM660 221h1v1h-1zM175 222h1v1h-1zM310 222h2v1h-2zM457 222h1v1h-1zM661 222h1v1h-1zM174 223h1v1h-1zM312 223h2v1h-2zM456 223h1v1h-1zM662 223h1v1h-1zM174 224h1v1h-1zM314 224h1v1h-1zM455 224h1v1h-1zM663 224h1v1h-1zM173 225h1v1h-1zM315 225h2v1h-2zM455 225h1v1h-1zM664 225h1v1h-1zM172 226h1v1h-1zM317 226h1v1h-1zM454 226h1v1h-1zM665 226h1v1h-1zM171 227h1v1h-1zM318 227h1v1h-1zM453 227h1v1h-1zM666 227h1v1h-1zM170 228h1v1h-1zM319 228h2v1h-2zM451 228h2v1h-2zM667 228h1v1h-1zM167 229h3v1h-3zM321 229h1v1h-1zM450 229h1v1h-1zM668 229h1v1h-1zM163 230h4v1h-4zM322 230h1v1h-1zM449 230h1v1h-1zM669 230h1v1h-1zM159 231h4v1h-4zM323 231h1v1h-1zM447 231h2v1h-2zM670 231h1v1h-1zM151 232h8v1h-8zM324 232h1v1h-1zM446 232h1v1h-1zM671 232h1v1h-1zM148 233h3v1h-3zM325 233h1v1h-1zM445 233h1v1h-1zM672 233h1v1h-1zM146 234h2v1h-2zM326 234h1v1h-1zM443 234h2v1h-2zM673 234h1v1h-1zM144 235h2v1h-2zM327 235h1v1h-1zM442 235h1v1h-1zM674 235h1v1h-1zM142 236h2v1h-2zM328 236h1v1h-1zM441 236h1v1h-1zM675 236h2v1h-2zM141 237h1v1h-1zM329 237h1v1h-1zM439 237h2v1h-2zM677 237h1v1h-1zM139 238h2v1h-2zM330 238h1v1h-1zM438 238h1v1h-1zM678 238h1v1h-1zM138 239h1v1h-1zM331 239h2v1h-2zM437 239h1v1h-1zM679 239h2v1h-2zM137 240h1v1h-1zM333 240h1v1h-1zM435 240h2v1h-2zM681 240h1v1h-1zM135 241h2v1h-2zM334 241h2v1h-2zM434 241h1v1h-1zM682 241h2v1h-2zM134 242h1v1h-1zM336 242h3v1h-3zM433 242h1v1h-1zM684 242h2v1h-2zM132 243h2v1h-2zM339 243h3v1h-3zM432 243h1v1h-1zM686 243h2v1h-2zM130 244h2v1h-2zM342 244h2v1h-2zM431 244h1v1h-1zM688 244h2v1h-2zM125 245h5v1h-5zM344 245h3v1h-3zM430 245h1v1h-1zM690 245h1v1h-1zM124 246h1v1h-1zM347 246h4v1h-4zM429 246h1v1h-1zM691 246h1v1h-1zM123 247h1v1h-1zM351 247h3v1h-3zM428 247h1v1h-1zM692 247h1v1h-1zM122 248h1v1h-1zM354 248h2v1h-2zM427 248h1v1h-1zM693 248h1v1h-1zM111 249h11v1h-11zM356 249h2v1h-2zM426 249h1v1h-1zM694 249h1v1h-1zM107 250h4v1h-4zM358 250h1v1h-1zM425 250h1v1h-1zM695 250h1v1h-1zM105 251h2v1h-2zM359 251h1v1h-1zM424 251h1v1h-1zM695 251h1v1h-1zM103 252h2v1h-2zM359 252h1v1h-1zM423 252h1v1h-1zM696 252h1v1h-1zM102 253h1v1h-1zM360 253h1v1h-1zM423 253h1v1h-1zM697 253h1v1h-1zM95 254h7v1h-7zM361 254h1v1h-1zM422 254h1v1h-1zM698 254h1v1h-1zM93 255h2v1h-2zM362 255h1v1h-1zM421 255h1v1h-1zM699 255h1v1h-1zM363 256h2v1h-2zM420 256h1v1h-1zM699 256h1v1h-1zM365 257h1v1h-1zM419 257h1v1h-1zM700 257h1v1h-1zM366 258h1v1h-1zM418 258h1v1h-1zM701 258h1v1h-1zM367 259h2v1h-2zM417 259h1v1h-1zM702 259h1v1h-1zM369 260h1v1h-1zM416 260h1v1h-1zM703 260h1v1h-1zM370 261h2v1h-2zM415 261h1v1h-1zM704 261h1v1h-1zM372 262h3v1h-3zM415 262h1v1h-1zM705 262h1v1h-1zM375 263h3v1h-3zM414 263h1v1h-1zM706 263h1v1h-1zM378 264h2v1h-2zM413 264h1v1h-1zM707 264h1v1h-1zM380 265h3v1h-3zM412 265h1v1h-1zM708 265h1v1h-1zM383 266h3v1h-3zM411 266h1v1h-1zM709 266h1v1h-1zM386 267h2v1h-2zM410 267h1v1h-1zM710 267h1v1h-1zM388 268h2v1h-2zM409 268h1v1h-1zM711 268h2v1h-2zM390 269h2v1h-2zM408 269h1v1h-1zM713 269h1v1h-1zM392 270h2v1h-2zM407 270h1v1h-1zM714 270h1v1h-1zM394 271h2v1h-2zM406 271h1v1h-1zM715 271h2v1h-2zM396 272h3v1h-3zM403 272h3v1h-3zM717 272h1v1h-1zM399 273h4v1h-4zM718 273h1v1h-1zM719 274h2v1h-2zM721 275h2v1h-2zM723 276h3v1h-3zM726 277h2v1h-2zM728 278h3v1h-3zM731 279h4v1h-4zM735 280h3v1h-3zM738 281h1v1h-1zM739 282h1v1h-1zM740 283h1v1h-1zM741 284h1v1h-1zM742 285h1v1h-1zM743 286h2v1h-2zM745 287h1v1h-1zM746 288h1v1h-1zM747 289h1v1h-1zM748 290h1v1h-1zM749 291h1v1h-1zM750 292h1v1h-1zM750 293h1v1h-1zM751 294h1v1h-1zM751 295h1v1h-1zM752 296h1v1h-1zM752 297h1v1h-1zM753 298h1v1h-1zM754 299h1v1h-1zM754 300h1v1h-1zM755 301h1v1h-1zM755 302h1v1h-1zM756 303h1v1h-1zM756 304h1v1h-1zM757 305h1v1h-1zM757 306h1v1h-1zM758 307h1v1h-1zM759 308h1v1h-1zM759 309h1v1h-1zM760 310h1v1h-1zM761 311h1v1h-1zM883 311h4v1h-4zM762 312h1v1h-1zM875 312h8v1h-8zM887 312h4v1h-4zM763 313h1v1h-1zM872 313h3v1h-3zM891 313h3v1h-3zM763 314h1v1h-1zM870 314h2v1h-2zM764 315h1v1h-1zM867 315h3v1h-3zM765 316h1v1h-1zM863 316h4v1h-4zM766 317h1v1h-1zM859 317h4v1h-4zM767 318h2v1h-2zM855 318h4v1h-4zM769 319h1v1h-1zM852 319h3v1h-3zM770 320h1v1h-1zM850 320h2v1h-2zM771 321h1v1h-1zM848 321h2v1h-2zM772 322h1v1h-1zM846 322h2v1h-2zM773 323h1v1h-1zM844 323h2v1h-2zM774 324h1v1h-1zM842 324h2v1h-2zM775 325h1v1h-1zM837 325h5v1h-5zM776 326h1v1h-1zM835 326h2v1h-2zM777 327h1v1h-1zM834 327h1v1h-1zM778 328h2v1h-2zM833 328h1v1h-1zM780 329h2v1h-2zM831 329h2v1h-2zM782 330h2v1h-2zM830 330h1v1h-1zM784 331h2v1h-2zM828 331h2v1h-2zM786 332h1v1h-1zM826 332h2v1h-2zM787 333h2v1h-2zM825 333h1v1h-1zM789 334h2v1h-2zM823 334h2v1h-2zM791 335h3v1h-3zM822 335h1v1h-1zM794 336h2v1h-2zM821 336h1v1h-1zM796 337h3v1h-3zM819 337h2v1h-2zM799 338h7v1h-7zM818 338h1v1h-1zM806 339h2v1h-2zM817 339h1v1h-1zM808 340h2v1h-2zM815 340h2v1h-2zM810 341h2v1h-2zM814 341h1v1h-1zM812 342h2v1h-2z" fill="#2eaef2" shape-rendering="crispEdges"/>
<path d="M91 328h3v1h-3zM97 328h3v1h-3zM103 328h3v1h-3zM109 328h3v1h-3zM115 328h3v1h-3zM121 328h3v1h-3zM127 328h3v1h-3zM133 328h3v1h-3zM139 328h3v1h-3zM145 328h3v1h-3zM151 328h3v1h-3zM157 328h3v1h-3zM163 328h3v1h-3zM169 328h3v1h-3zM175 328h3v1h-3zM181 328h3v1h-3zM187 328h3v1h-3zM193 328h3v1h-3zM199 328h3v1h-3zM205 328h3v1h-3zM211 328h3v1h-3zM217 328h3v1h-3zM223 328h3v1h-3zM229 328h3v1h-3zM235 328h3v1h-3zM241 328h3v1h-3zM247 328h3v1h-3zM253 328h3v1h-3zM259 328h3v1h-3zM265 328h3v1h-3zM271 328h3v1h-3zM277 328h3v1h-3zM283 328h3v1h-3zM289 328h3v1h-3zM295 328h3v1h-3zM301 328h3v1h-3zM307 328h3v1h-3zM313 328h3v1h-3zM319 328h3v1h-3zM325 328h3v1h-3zM331 328h3v1h-3zM337 328h3v1h-3zM343 328h3v1h-3zM349 328h3v1h-3zM355 328h3v1h-3zM361 328h3v1h-3zM367 328h3v1h-3zM373 328h3v1h-3zM379 328h3v1h-3zM385 328h3v1h-3zM391 328h3v1h-3zM397 328h3v1h-3zM403 328h3v1h-3zM409 328h3v1h-3zM415 328h3v1h-3zM421 328h3v1h-3zM427 328h3v1h-3zM433 328h3v1h-3zM439 328h3v1h-3zM445 328h3v1h-3zM451 328h3v1h-3zM457 328h3v1h-3zM463 328h3v1h-3zM469 328h3v1h-3zM475 328h3v1h-3zM481 328h3v1h-3zM487 328h3v1h-3zM493 328h3v1h-3zM499 328h3v1h-3zM505 328h3v1h-3zM511 328h3v1h-3zM517 328h3v1h-3zM523 328h3v1h-3zM529 328h3v1h-3zM535 328h3v1h-3zM541 328h3v1h-3zM547 328h3v1h-3zM553 328h3v1h-3zM559 328h3v1h-3zM565 328h3v1h-3zM571 328h3v1h-3zM577 328h3v1h-3zM583 328h3v1h-3zM589 328h3v1h-3zM595 328h3v1h-3zM601 328h3v1h-3zM607 328h3v1h-3zM613 328h3v1h-3zM619 328h3v1h-3zM625 328h3v1h-3zM631 328h3v1h-3zM637 328h3v1h-3zM643 328h3v1h-3zM649 328h3v1h-3zM655 328h3v1h-3zM661 328h3v1h-3zM667 328h3v1h-3zM673 328h3v1h-3zM679 328h3v1h-3zM685 328h3v1h-3zM691 328h3v1h-3zM697 328h3v1h-3zM703 328h3v1h-3zM709 328h3v1h-3zM715 328h3v1h-3zM721 328h3v1h-3zM727 328h3v1h-3zM733 328h3v1h-3zM739 328h3v1h-3zM745 328h3v1h-3zM751 328h3v1h-3zM757 328h3v1h-3zM763 328h3v1h-3zM769 328h3v1h-3zM775 328h3v1h-3zM781 328h3v1h-3zM787 328h3v1h-3zM793 328h3v1h-3zM799 328h3v1h-3zM805 328h3v1h-3zM811 328h3v1h-3zM817 328h3v1h-3zM823 328h3v1h-3zM829 328h3v1h-3zM835 328h3v1h-3zM841 328h3v1h-3zM847 328h3v1h-3zM853 328h3v1h-3zM859 328h3v1h-3zM865 328h3v1h-3zM871 328h3v1h-3zM877 328h3v1h-3zM883 328h3v1h-3zM889 328h3v1h-3zM895 328h3v1h-3zM901 328h3v1h-3zM907 328h3v1h-3zM913 328h3v1h-3zM919 328h3v1h-3zM925 328h3v1h-3zM931 328h3v1h-3zM937 328h3v1h-3zM943 328h3v1h-3zM949 328h3v1h-3zM955 328h3v1h-3zM961 328h3v1h-3zM967 328h3v1h-3zM973 328h3v1h-3zM979 328h3v1h-3zM985 328h3v1h-3zM991 328h3v1h-3zM997 328h3v1h-3zM1003 328h3v1h-3zM1009 328h3v1h-3z" fill="#1a8cff" shape-rendering="crispEdges"/>
<path d="M761 59h254v1h-254z" fill="#0000ff" shape-rendering="crispEdges"/>
<text x="1010" y="55.7" text-anchor="end" font-size="12.5" font-weight="bold" fill="#0000ff" letter-spacing="-0.1">1.000 \ 66.41</text>
<path d="M761 127h254v1h-254z" fill="#0000ff" shape-rendering="crispEdges"/>
<text x="1010" y="123.7" text-anchor="end" font-size="12.5" font-weight="bold" fill="#0000ff" letter-spacing="-0.1">0.786 \ 65.13</text>
<path d="M761 180h254v1h-254z" fill="#0000ff" shape-rendering="crispEdges"/>
<text x="1010" y="176.7" text-anchor="end" font-size="12.5" font-weight="bold" fill="#0000ff" letter-spacing="-0.1">0.618 \ 64.12</text>
<path d="M761 218h254v1h-254z" fill="#0000ff" shape-rendering="crispEdges"/>
<text x="1010" y="214.7" text-anchor="end" font-size="12.5" font-weight="bold" fill="#0000ff" letter-spacing="-0.1">0.500 \ 63.41</text>
<path d="M761 256h254v1h-254z" fill="#0000ff" shape-rendering="crispEdges"/>
<text x="1010" y="252.7" text-anchor="end" font-size="12.5" font-weight="bold" fill="#0000ff" letter-spacing="-0.1">0.382 \ 62.70</text>
<path d="M761 302h254v1h-254z" fill="#0000ff" shape-rendering="crispEdges"/>
<text x="1010" y="298.7" text-anchor="end" font-size="12.5" font-weight="bold" fill="#0000ff" letter-spacing="-0.1">0.236 \ 61.82</text>
<path d="M564 64h1v1h-1zM564 65h1v1h-1zM565 66h1v1h-1zM567 70h1v1h-1zM568 71h1v1h-1zM569 72h1v1h-1zM572 77h1v1h-1zM573 78h1v1h-1zM576 83h1v1h-1zM576 84h1v1h-1zM579 89h1v1h-1zM580 90h1v1h-1zM583 95h1v1h-1zM584 96h1v1h-1zM585 97h1v1h-1zM587 101h1v1h-1zM588 102h1v1h-1zM588 103h1v1h-1zM591 107h1v1h-1zM591 108h1v1h-1zM592 109h1v1h-1zM595 113h1v1h-1zM595 114h1v1h-1zM596 115h1v1h-1zM598 119h1v1h-1zM599 120h1v1h-1zM600 121h1v1h-1zM602 125h1v1h-1zM603 126h1v1h-1zM603 127h1v1h-1zM606 131h1v1h-1zM607 132h1v1h-1zM607 133h1v1h-1zM610 137h1v1h-1zM610 138h1v1h-1zM611 139h1v1h-1zM614 143h1v1h-1zM614 144h1v1h-1zM615 145h1v1h-1zM618 150h1v1h-1zM619 151h1v1h-1zM622 156h1v1h-1zM622 157h1v1h-1zM626 162h1v1h-1zM626 163h1v1h-1zM627 164h1v1h-1zM629 168h1v1h-1zM630 169h1v1h-1zM631 170h1v1h-1zM633 174h1v1h-1zM634 175h1v1h-1zM634 176h1v1h-1zM637 180h1v1h-1zM638 181h1v1h-1zM638 182h1v1h-1zM641 186h1v1h-1zM641 187h1v1h-1zM642 188h1v1h-1zM644 192h1v1h-1zM645 193h1v1h-1zM646 194h1v1h-1zM648 198h1v1h-1zM649 199h1v1h-1zM650 200h1v1h-1zM652 204h1v1h-1zM653 205h1v1h-1zM653 206h1v1h-1zM656 210h1v1h-1zM656 211h1v1h-1zM657 212h1v1h-1zM660 217h1v1h-1zM661 218h1v1h-1zM664 223h1v1h-1zM665 224h1v1h-1zM668 229h1v1h-1zM668 230h1v1h-1zM669 231h1v1h-1zM672 235h1v1h-1zM672 236h1v1h-1zM673 237h1v1h-1zM675 241h1v1h-1zM676 242h1v1h-1zM677 243h1v1h-1zM679 247h1v1h-1zM680 248h1v1h-1zM680 249h1v1h-1zM683 253h1v1h-1zM684 254h1v1h-1zM684 255h1v1h-1zM687 259h1v1h-1zM687 260h1v1h-1zM688 261h1v1h-1zM691 265h1v1h-1zM691 266h1v1h-1zM692 267h1v1h-1zM694 271h1v1h-1zM695 272h1v1h-1zM696 273h1v1h-1zM698 277h1v1h-1zM699 278h1v1h-1zM699 279h1v1h-1zM703 284h1v1h-1zM703 285h1v1h-1zM706 290h1v1h-1zM707 291h1v1h-1zM710 296h1v1h-1zM711 297h1v1h-1zM711 298h1v1h-1zM714 302h1v1h-1zM714 303h1v1h-1zM715 304h1v1h-1zM718 308h1v1h-1zM718 309h1v1h-1zM719 310h1v1h-1zM721 314h1v1h-1zM722 315h1v1h-1zM723 316h1v1h-1zM725 320h1v1h-1zM726 321h1v1h-1zM726 322h1v1h-1zM729 326h1v1h-1zM730 327h1v1h-1zM730 328h1v1h-1zM733 332h1v1h-1zM733 333h1v1h-1zM734 334h1v1h-1zM737 338h1v1h-1zM737 339h1v1h-1zM738 340h1v1h-1zM740 344h1v1h-1zM741 345h1v1h-1zM742 346h1v1h-1zM745 351h1v1h-1zM745 352h1v1h-1zM749 357h1v1h-1zM749 358h1v1h-1zM752 363h1v1h-1zM753 364h1v1h-1zM756 369h1v1h-1zM757 370h1v1h-1zM757 371h1v1h-1zM760 375h1v1h-1zM761 376h1v1h-1zM761 377h1v1h-1z" fill="#2c0303" shape-rendering="crispEdges"/>
<path d="M767 377h3v1h-3zM773 377h3v1h-3zM779 377h3v1h-3zM785 377h3v1h-3zM791 377h3v1h-3zM797 377h3v1h-3zM803 377h3v1h-3zM809 377h3v1h-3zM815 377h3v1h-3zM821 377h3v1h-3zM827 377h3v1h-3zM833 377h3v1h-3zM839 377h3v1h-3zM845 377h3v1h-3zM851 377h3v1h-3zM857 377h3v1h-3zM863 377h3v1h-3zM869 377h3v1h-3zM875 377h3v1h-3zM881 377h3v1h-3zM887 377h3v1h-3zM893 377h3v1h-3zM899 377h3v1h-3zM905 377h3v1h-3zM911 377h3v1h-3zM917 377h3v1h-3zM923 377h3v1h-3zM929 377h3v1h-3zM935 377h3v1h-3zM941 377h3v1h-3zM947 377h3v1h-3zM953 377h3v1h-3zM959 377h3v1h-3zM965 377h3v1h-3zM971 377h3v1h-3zM977 377h3v1h-3zM983 377h3v1h-3zM989 377h3v1h-3zM995 377h3v1h-3zM1001 377h3v1h-3zM1007 377h3v1h-3zM1013 377h3v1h-3z" fill="#2c0303" shape-rendering="crispEdges"/>
<path d="M179 147h7v1h-7zM181 145h1v5h-1z" fill="#000" shape-rendering="crispEdges"/>
<path d="M559 60h7v1h-7zM561 58h1v5h-1z" fill="#000" shape-rendering="crispEdges"/>
<path d="M363 314h7v1h-7zM365 312h1v5h-1z" fill="#000" shape-rendering="crispEdges"/>
<path d="M759 378h7v1h-7zM761 376h1v5h-1z" fill="#000" shape-rendering="crispEdges"/>
<text x="186" y="143.5" font-size="12" font-weight="bold" fill="#ea4a5f">64.76</text>
<text x="566" y="57" font-size="12" font-weight="bold" fill="#ea4a5f">66.41</text>
<text x="370.3" y="325.8" font-size="12" font-weight="bold" fill="#4ab58a">61.61</text>
<text x="766" y="390" font-size="12" font-weight="bold" fill="#4ab58a">60.40</text>
<path d="M469 424h1v1h-1zM467 425h2v1h-2zM470 425h1v1h-1zM466 426h1v1h-1zM471 426h1v1h-1zM465 427h1v1h-1zM471 427h1v1h-1zM464 428h1v1h-1zM472 428h1v1h-1zM464 429h1v1h-1zM473 429h2v1h-2zM463 430h1v1h-1zM475 430h3v1h-3zM463 431h1v1h-1zM478 431h1v1h-1zM462 432h1v1h-1zM478 432h1v1h-1zM462 433h1v1h-1zM479 433h1v1h-1zM461 434h1v1h-1zM479 434h1v1h-1zM460 435h1v1h-1zM480 435h1v1h-1zM491 435h3v1h-3zM561 435h1v1h-1zM181 436h1v1h-1zM460 436h1v1h-1zM480 436h1v1h-1zM483 436h8v1h-8zM494 436h1v1h-1zM561 436h1v1h-1zM179 437h2v1h-2zM182 437h1v1h-1zM459 437h1v1h-1zM481 437h2v1h-2zM495 437h1v1h-1zM560 437h2v1h-2zM178 438h1v1h-1zM182 438h1v1h-1zM458 438h1v1h-1zM495 438h1v1h-1zM560 438h1v1h-1zM562 438h1v1h-1zM177 439h1v1h-1zM183 439h1v1h-1zM458 439h1v1h-1zM496 439h1v1h-1zM560 439h1v1h-1zM562 439h1v1h-1zM177 440h1v1h-1zM184 440h1v1h-1zM457 440h1v1h-1zM497 440h1v1h-1zM521 440h1v1h-1zM559 440h1v1h-1zM562 440h1v1h-1zM176 441h1v1h-1zM184 441h1v1h-1zM192 441h2v1h-2zM457 441h1v1h-1zM498 441h1v1h-1zM521 441h2v1h-2zM559 441h1v1h-1zM562 441h1v1h-1zM176 442h1v1h-1zM185 442h2v1h-2zM190 442h2v1h-2zM194 442h1v1h-1zM456 442h1v1h-1zM498 442h1v1h-1zM520 442h1v1h-1zM523 442h1v1h-1zM531 442h3v1h-3zM559 442h1v1h-1zM562 442h1v1h-1zM175 443h1v1h-1zM187 443h3v1h-3zM194 443h1v1h-1zM456 443h1v1h-1zM499 443h1v1h-1zM520 443h1v1h-1zM523 443h1v1h-1zM528 443h3v1h-3zM534 443h1v1h-1zM558 443h1v1h-1zM562 443h1v1h-1zM175 444h1v1h-1zM195 444h1v1h-1zM456 444h1v1h-1zM499 444h1v1h-1zM520 444h1v1h-1zM524 444h1v1h-1zM526 444h2v1h-2zM534 444h1v1h-1zM558 444h1v1h-1zM563 444h1v1h-1zM175 445h1v1h-1zM195 445h1v1h-1zM455 445h1v1h-1zM500 445h1v1h-1zM505 445h1v1h-1zM519 445h1v1h-1zM525 445h1v1h-1zM535 445h1v1h-1zM558 445h1v1h-1zM563 445h1v1h-1zM174 446h1v1h-1zM196 446h1v1h-1zM417 446h1v1h-1zM455 446h1v1h-1zM500 446h1v1h-1zM503 446h3v1h-3zM519 446h1v1h-1zM535 446h1v1h-1zM557 446h1v1h-1zM563 446h1v1h-1zM174 447h1v1h-1zM196 447h1v1h-1zM416 447h2v1h-2zM454 447h1v1h-1zM501 447h2v1h-2zM505 447h1v1h-1zM519 447h1v1h-1zM536 447h1v1h-1zM557 447h1v1h-1zM563 447h1v1h-1zM173 448h1v1h-1zM197 448h1v1h-1zM416 448h1v1h-1zM418 448h1v1h-1zM454 448h1v1h-1zM501 448h1v1h-1zM505 448h1v1h-1zM519 448h1v1h-1zM536 448h1v1h-1zM557 448h1v1h-1zM563 448h1v1h-1zM173 449h1v1h-1zM197 449h1v1h-1zM415 449h1v1h-1zM418 449h1v1h-1zM454 449h1v1h-1zM506 449h1v1h-1zM518 449h1v1h-1zM537 449h2v1h-2zM557 449h1v1h-1zM563 449h1v1h-1zM173 450h1v1h-1zM198 450h1v1h-1zM415 450h1v1h-1zM418 450h1v1h-1zM425 450h2v1h-2zM431 450h3v1h-3zM453 450h1v1h-1zM506 450h1v1h-1zM518 450h1v1h-1zM539 450h3v1h-3zM557 450h1v1h-1zM564 450h1v1h-1zM172 451h1v1h-1zM199 451h1v1h-1zM414 451h1v1h-1zM418 451h1v1h-1zM425 451h1v1h-1zM427 451h4v1h-4zM434 451h1v1h-1zM449 451h5v1h-5zM506 451h1v1h-1zM518 451h1v1h-1zM542 451h1v1h-1zM556 451h1v1h-1zM564 451h1v1h-1zM172 452h1v1h-1zM200 452h1v1h-1zM414 452h1v1h-1zM419 452h1v1h-1zM424 452h1v1h-1zM435 452h2v1h-2zM449 452h1v1h-1zM506 452h1v1h-1zM517 452h1v1h-1zM542 452h1v1h-1zM556 452h1v1h-1zM564 452h1v1h-1zM141 453h1v1h-1zM172 453h1v1h-1zM201 453h5v1h-5zM413 453h1v1h-1zM419 453h1v1h-1zM424 453h1v1h-1zM437 453h5v1h-5zM448 453h1v1h-1zM506 453h1v1h-1zM513 453h5v1h-5zM543 453h1v1h-1zM556 453h1v1h-1zM564 453h1v1h-1zM141 454h1v1h-1zM172 454h1v1h-1zM205 454h1v1h-1zM413 454h1v1h-1zM419 454h1v1h-1zM423 454h1v1h-1zM442 454h1v1h-1zM448 454h1v1h-1zM506 454h1v1h-1zM513 454h1v1h-1zM543 454h1v1h-1zM556 454h1v1h-1zM564 454h1v1h-1zM140 455h2v1h-2zM171 455h1v1h-1zM206 455h1v1h-1zM412 455h1v1h-1zM420 455h1v1h-1zM423 455h1v1h-1zM442 455h1v1h-1zM447 455h1v1h-1zM506 455h1v1h-1zM513 455h1v1h-1zM544 455h1v1h-1zM556 455h1v1h-1zM564 455h1v1h-1zM140 456h1v1h-1zM142 456h1v1h-1zM171 456h1v1h-1zM206 456h1v1h-1zM412 456h1v1h-1zM420 456h1v1h-1zM423 456h1v1h-1zM443 456h1v1h-1zM447 456h1v1h-1zM506 456h1v1h-1zM512 456h1v1h-1zM544 456h1v1h-1zM556 456h1v1h-1zM565 456h1v1h-1zM140 457h1v1h-1zM142 457h1v1h-1zM171 457h1v1h-1zM206 457h1v1h-1zM411 457h1v1h-1zM420 457h1v1h-1zM422 457h1v1h-1zM443 457h1v1h-1zM446 457h1v1h-1zM507 457h1v1h-1zM512 457h1v1h-1zM545 457h1v1h-1zM555 457h1v1h-1zM565 457h1v1h-1zM139 458h1v1h-1zM142 458h1v1h-1zM171 458h1v1h-1zM207 458h1v1h-1zM411 458h1v1h-1zM420 458h1v1h-1zM422 458h1v1h-1zM444 458h1v1h-1zM446 458h1v1h-1zM507 458h1v1h-1zM512 458h1v1h-1zM545 458h1v1h-1zM555 458h1v1h-1zM565 458h1v1h-1zM139 459h1v1h-1zM142 459h1v1h-1zM170 459h1v1h-1zM207 459h1v1h-1zM221 459h1v1h-1zM410 459h1v1h-1zM421 459h1v1h-1zM444 459h2v1h-2zM507 459h1v1h-1zM512 459h1v1h-1zM545 459h1v1h-1zM555 459h1v1h-1zM565 459h1v1h-1zM139 460h1v1h-1zM143 460h1v1h-1zM170 460h1v1h-1zM208 460h1v1h-1zM220 460h1v1h-1zM222 460h1v1h-1zM410 460h1v1h-1zM421 460h1v1h-1zM445 460h1v1h-1zM507 460h1v1h-1zM512 460h1v1h-1zM546 460h1v1h-1zM555 460h1v1h-1zM565 460h1v1h-1zM837 460h1v1h-1zM125 461h1v1h-1zM138 461h1v1h-1zM143 461h1v1h-1zM170 461h1v1h-1zM208 461h1v1h-1zM220 461h1v1h-1zM223 461h1v1h-1zM409 461h1v1h-1zM507 461h1v1h-1zM512 461h1v1h-1zM546 461h1v1h-1zM555 461h1v1h-1zM566 461h1v1h-1zM837 461h1v1h-1zM125 462h1v1h-1zM138 462h1v1h-1zM143 462h1v1h-1zM170 462h1v1h-1zM208 462h1v1h-1zM219 462h1v1h-1zM224 462h1v1h-1zM409 462h1v1h-1zM507 462h1v1h-1zM511 462h1v1h-1zM546 462h1v1h-1zM555 462h1v1h-1zM566 462h1v1h-1zM836 462h2v1h-2zM125 463h2v1h-2zM138 463h1v1h-1zM143 463h1v1h-1zM169 463h1v1h-1zM209 463h1v1h-1zM219 463h1v1h-1zM225 463h5v1h-5zM408 463h1v1h-1zM507 463h1v1h-1zM511 463h1v1h-1zM546 463h1v1h-1zM554 463h1v1h-1zM566 463h1v1h-1zM836 463h2v1h-2zM124 464h1v1h-1zM126 464h1v1h-1zM137 464h1v1h-1zM144 464h1v1h-1zM169 464h1v1h-1zM209 464h1v1h-1zM218 464h1v1h-1zM229 464h1v1h-1zM408 464h1v1h-1zM507 464h1v1h-1zM511 464h1v1h-1zM546 464h1v1h-1zM554 464h1v1h-1zM567 464h1v1h-1zM823 464h3v1h-3zM836 464h1v1h-1zM838 464h1v1h-1zM124 465h1v1h-1zM126 465h1v1h-1zM133 465h5v1h-5zM144 465h1v1h-1zM169 465h1v1h-1zM210 465h1v1h-1zM218 465h1v1h-1zM229 465h1v1h-1zM408 465h1v1h-1zM508 465h1v1h-1zM511 465h1v1h-1zM547 465h1v1h-1zM554 465h1v1h-1zM567 465h1v1h-1zM821 465h2v1h-2zM826 465h1v1h-1zM836 465h1v1h-1zM838 465h1v1h-1zM124 466h1v1h-1zM127 466h1v1h-1zM133 466h1v1h-1zM144 466h1v1h-1zM149 466h9v1h-9zM169 466h1v1h-1zM210 466h1v1h-1zM217 466h1v1h-1zM230 466h1v1h-1zM407 466h1v1h-1zM508 466h1v1h-1zM511 466h1v1h-1zM547 466h1v1h-1zM554 466h1v1h-1zM568 466h1v1h-1zM820 466h1v1h-1zM827 466h2v1h-2zM835 466h1v1h-1zM838 466h1v1h-1zM124 467h1v1h-1zM127 467h1v1h-1zM132 467h1v1h-1zM144 467h1v1h-1zM148 467h1v1h-1zM157 467h1v1h-1zM168 467h1v1h-1zM211 467h1v1h-1zM216 467h1v1h-1zM230 467h1v1h-1zM407 467h1v1h-1zM508 467h1v1h-1zM511 467h1v1h-1zM547 467h1v1h-1zM554 467h1v1h-1zM568 467h1v1h-1zM819 467h1v1h-1zM829 467h1v1h-1zM835 467h1v1h-1zM838 467h1v1h-1zM123 468h1v1h-1zM127 468h1v1h-1zM132 468h1v1h-1zM145 468h1v1h-1zM147 468h1v1h-1zM157 468h1v1h-1zM168 468h1v1h-1zM211 468h1v1h-1zM215 468h1v1h-1zM230 468h1v1h-1zM407 468h1v1h-1zM508 468h1v1h-1zM510 468h1v1h-1zM547 468h1v1h-1zM554 468h1v1h-1zM568 468h1v1h-1zM819 468h1v1h-1zM830 468h1v1h-1zM835 468h1v1h-1zM838 468h1v1h-1zM875 468h3v1h-3zM123 469h1v1h-1zM128 469h1v1h-1zM131 469h1v1h-1zM145 469h2v1h-2zM158 469h1v1h-1zM168 469h1v1h-1zM212 469h1v1h-1zM215 469h1v1h-1zM230 469h1v1h-1zM407 469h1v1h-1zM508 469h1v1h-1zM510 469h1v1h-1zM547 469h1v1h-1zM553 469h1v1h-1zM569 469h1v1h-1zM818 469h1v1h-1zM830 469h1v1h-1zM834 469h1v1h-1zM838 469h1v1h-1zM845 469h1v1h-1zM873 469h2v1h-2zM877 469h1v1h-1zM123 470h1v1h-1zM128 470h1v1h-1zM131 470h1v1h-1zM145 470h1v1h-1zM158 470h1v1h-1zM168 470h1v1h-1zM212 470h1v1h-1zM214 470h1v1h-1zM230 470h1v1h-1zM406 470h1v1h-1zM508 470h1v1h-1zM510 470h1v1h-1zM548 470h1v1h-1zM553 470h1v1h-1zM569 470h1v1h-1zM587 470h3v1h-3zM817 470h1v1h-1zM831 470h1v1h-1zM834 470h1v1h-1zM838 470h1v1h-1zM845 470h2v1h-2zM872 470h1v1h-1zM878 470h1v1h-1zM104 471h6v1h-6zM123 471h1v1h-1zM128 471h1v1h-1zM130 471h1v1h-1zM158 471h1v1h-1zM167 471h1v1h-1zM213 471h1v1h-1zM231 471h1v1h-1zM406 471h1v1h-1zM508 471h1v1h-1zM510 471h1v1h-1zM548 471h1v1h-1zM553 471h1v1h-1zM570 471h1v1h-1zM585 471h2v1h-2zM589 471h1v1h-1zM817 471h1v1h-1zM831 471h1v1h-1zM834 471h1v1h-1zM839 471h1v1h-1zM845 471h1v1h-1zM847 471h1v1h-1zM871 471h1v1h-1zM878 471h1v1h-1zM102 472h2v1h-2zM110 472h1v1h-1zM122 472h1v1h-1zM129 472h2v1h-2zM158 472h1v1h-1zM167 472h1v1h-1zM231 472h1v1h-1zM406 472h1v1h-1zM508 472h1v1h-1zM510 472h1v1h-1zM548 472h1v1h-1zM552 472h1v1h-1zM571 472h1v1h-1zM584 472h1v1h-1zM590 472h1v1h-1zM817 472h1v1h-1zM832 472h1v1h-1zM834 472h1v1h-1zM839 472h1v1h-1zM844 472h1v1h-1zM847 472h1v1h-1zM871 472h1v1h-1zM879 472h1v1h-1zM101 473h1v1h-1zM111 473h1v1h-1zM122 473h1v1h-1zM129 473h1v1h-1zM159 473h1v1h-1zM167 473h1v1h-1zM231 473h1v1h-1zM265 473h1v1h-1zM405 473h1v1h-1zM509 473h2v1h-2zM548 473h1v1h-1zM552 473h1v1h-1zM572 473h1v1h-1zM583 473h1v1h-1zM590 473h1v1h-1zM817 473h1v1h-1zM832 473h2v1h-2zM839 473h1v1h-1zM844 473h1v1h-1zM848 473h1v1h-1zM870 473h1v1h-1zM879 473h1v1h-1zM101 474h1v1h-1zM112 474h1v1h-1zM122 474h1v1h-1zM159 474h1v1h-1zM167 474h1v1h-1zM231 474h1v1h-1zM265 474h1v1h-1zM405 474h1v1h-1zM509 474h1v1h-1zM548 474h1v1h-1zM551 474h1v1h-1zM573 474h1v1h-1zM583 474h1v1h-1zM590 474h1v1h-1zM817 474h1v1h-1zM833 474h1v1h-1zM839 474h1v1h-1zM844 474h1v1h-1zM849 474h10v1h-10zM868 474h2v1h-2zM880 474h1v1h-1zM100 475h1v1h-1zM113 475h5v1h-5zM122 475h1v1h-1zM159 475h1v1h-1zM166 475h1v1h-1zM231 475h1v1h-1zM265 475h2v1h-2zM405 475h1v1h-1zM509 475h1v1h-1zM549 475h2v1h-2zM574 475h1v1h-1zM582 475h1v1h-1zM591 475h1v1h-1zM816 475h1v1h-1zM839 475h1v1h-1zM844 475h1v1h-1zM859 475h4v1h-4zM866 475h2v1h-2zM880 475h1v1h-1zM100 476h1v1h-1zM118 476h2v1h-2zM121 476h1v1h-1zM159 476h1v1h-1zM166 476h1v1h-1zM232 476h1v1h-1zM265 476h2v1h-2zM405 476h1v1h-1zM509 476h1v1h-1zM549 476h2v1h-2zM575 476h2v1h-2zM579 476h3v1h-3zM591 476h1v1h-1zM816 476h1v1h-1zM839 476h1v1h-1zM844 476h1v1h-1zM863 476h3v1h-3zM881 476h1v1h-1zM889 476h1v1h-1zM100 477h1v1h-1zM120 477h2v1h-2zM159 477h1v1h-1zM166 477h1v1h-1zM232 477h1v1h-1zM265 477h1v1h-1zM267 477h1v1h-1zM404 477h1v1h-1zM549 477h1v1h-1zM577 477h2v1h-2zM592 477h1v1h-1zM816 477h1v1h-1zM839 477h1v1h-1zM843 477h1v1h-1zM881 477h1v1h-1zM889 477h1v1h-1zM99 478h1v1h-1zM160 478h1v1h-1zM166 478h1v1h-1zM232 478h1v1h-1zM264 478h1v1h-1zM267 478h1v1h-1zM404 478h1v1h-1zM592 478h1v1h-1zM816 478h1v1h-1zM840 478h1v1h-1zM843 478h1v1h-1zM882 478h1v1h-1zM888 478h1v1h-1zM890 478h1v1h-1zM99 479h1v1h-1zM160 479h1v1h-1zM165 479h1v1h-1zM232 479h1v1h-1zM264 479h1v1h-1zM267 479h1v1h-1zM404 479h1v1h-1zM592 479h1v1h-1zM816 479h1v1h-1zM840 479h1v1h-1zM843 479h1v1h-1zM882 479h1v1h-1zM888 479h1v1h-1zM890 479h1v1h-1zM99 480h1v1h-1zM160 480h1v1h-1zM165 480h1v1h-1zM232 480h1v1h-1zM264 480h1v1h-1zM268 480h1v1h-1zM404 480h1v1h-1zM593 480h1v1h-1zM816 480h1v1h-1zM840 480h1v1h-1zM843 480h1v1h-1zM883 480h1v1h-1zM887 480h1v1h-1zM890 480h1v1h-1zM98 481h1v1h-1zM160 481h1v1h-1zM164 481h1v1h-1zM233 481h1v1h-1zM264 481h1v1h-1zM268 481h1v1h-1zM403 481h1v1h-1zM593 481h1v1h-1zM816 481h1v1h-1zM840 481h1v1h-1zM842 481h1v1h-1zM883 481h1v1h-1zM887 481h1v1h-1zM890 481h1v1h-1zM98 482h1v1h-1zM161 482h1v1h-1zM163 482h1v1h-1zM233 482h1v1h-1zM235 482h3v1h-3zM264 482h1v1h-1zM269 482h1v1h-1zM403 482h1v1h-1zM593 482h1v1h-1zM816 482h1v1h-1zM840 482h1v1h-1zM842 482h1v1h-1zM884 482h1v1h-1zM886 482h1v1h-1zM891 482h1v1h-1zM98 483h1v1h-1zM161 483h2v1h-2zM233 483h2v1h-2zM237 483h1v1h-1zM264 483h1v1h-1zM269 483h1v1h-1zM403 483h1v1h-1zM594 483h1v1h-1zM816 483h1v1h-1zM840 483h1v1h-1zM842 483h1v1h-1zM884 483h1v1h-1zM886 483h1v1h-1zM891 483h1v1h-1zM97 484h1v1h-1zM161 484h1v1h-1zM238 484h1v1h-1zM264 484h1v1h-1zM269 484h1v1h-1zM403 484h1v1h-1zM594 484h1v1h-1zM816 484h1v1h-1zM840 484h1v1h-1zM842 484h1v1h-1zM885 484h1v1h-1zM891 484h1v1h-1zM97 485h1v1h-1zM238 485h1v1h-1zM264 485h1v1h-1zM270 485h1v1h-1zM403 485h1v1h-1zM594 485h1v1h-1zM815 485h1v1h-1zM841 485h2v1h-2zM885 485h1v1h-1zM891 485h1v1h-1zM95 486h2v1h-2zM238 486h1v1h-1zM264 486h1v1h-1zM270 486h1v1h-1zM402 486h1v1h-1zM594 486h1v1h-1zM815 486h1v1h-1zM841 486h1v1h-1zM892 486h1v1h-1zM94 487h1v1h-1zM239 487h1v1h-1zM264 487h1v1h-1zM271 487h1v1h-1zM402 487h1v1h-1zM595 487h1v1h-1zM815 487h1v1h-1zM841 487h1v1h-1zM892 487h1v1h-1zM93 488h1v1h-1zM239 488h1v1h-1zM263 488h1v1h-1zM271 488h1v1h-1zM402 488h1v1h-1zM595 488h1v1h-1zM815 488h1v1h-1zM841 488h1v1h-1zM892 488h1v1h-1zM239 489h1v1h-1zM263 489h1v1h-1zM272 489h1v1h-1zM402 489h1v1h-1zM595 489h1v1h-1zM815 489h1v1h-1zM892 489h1v1h-1zM240 490h1v1h-1zM263 490h1v1h-1zM272 490h1v1h-1zM401 490h1v1h-1zM596 490h1v1h-1zM815 490h1v1h-1zM893 490h1v1h-1zM240 491h1v1h-1zM263 491h1v1h-1zM273 491h1v1h-1zM401 491h1v1h-1zM596 491h1v1h-1zM815 491h1v1h-1zM893 491h1v1h-1zM240 492h1v1h-1zM263 492h1v1h-1zM273 492h1v1h-1zM401 492h1v1h-1zM596 492h1v1h-1zM805 492h1v1h-1zM815 492h1v1h-1zM893 492h1v1h-1zM241 493h1v1h-1zM263 493h1v1h-1zM273 493h1v1h-1zM281 493h1v1h-1zM401 493h1v1h-1zM596 493h1v1h-1zM804 493h2v1h-2zM815 493h1v1h-1zM241 494h1v1h-1zM263 494h1v1h-1zM274 494h1v1h-1zM281 494h3v1h-3zM292 494h2v1h-2zM345 494h9v1h-9zM401 494h1v1h-1zM597 494h1v1h-1zM803 494h1v1h-1zM806 494h1v1h-1zM814 494h1v1h-1zM241 495h1v1h-1zM263 495h1v1h-1zM274 495h1v1h-1zM280 495h1v1h-1zM284 495h3v1h-3zM290 495h2v1h-2zM294 495h1v1h-1zM344 495h1v1h-1zM353 495h1v1h-1zM400 495h1v1h-1zM597 495h1v1h-1zM802 495h1v1h-1zM806 495h1v1h-1zM814 495h1v1h-1zM242 496h1v1h-1zM249 496h1v1h-1zM263 496h1v1h-1zM274 496h1v1h-1zM280 496h1v1h-1zM287 496h3v1h-3zM295 496h1v1h-1zM343 496h1v1h-1zM353 496h1v1h-1zM400 496h1v1h-1zM598 496h1v1h-1zM728 496h2v1h-2zM801 496h1v1h-1zM806 496h1v1h-1zM814 496h1v1h-1zM242 497h1v1h-1zM249 497h2v1h-2zM262 497h1v1h-1zM275 497h1v1h-1zM279 497h1v1h-1zM295 497h1v1h-1zM342 497h1v1h-1zM354 497h1v1h-1zM384 497h2v1h-2zM400 497h1v1h-1zM599 497h1v1h-1zM726 497h2v1h-2zM730 497h2v1h-2zM801 497h1v1h-1zM806 497h1v1h-1zM814 497h1v1h-1zM242 498h1v1h-1zM248 498h1v1h-1zM251 498h1v1h-1zM262 498h1v1h-1zM275 498h1v1h-1zM279 498h1v1h-1zM296 498h1v1h-1zM341 498h1v1h-1zM354 498h1v1h-1zM382 498h2v1h-2zM385 498h1v1h-1zM400 498h1v1h-1zM600 498h1v1h-1zM689 498h1v1h-1zM725 498h1v1h-1zM732 498h2v1h-2zM800 498h1v1h-1zM807 498h1v1h-1zM814 498h1v1h-1zM243 499h1v1h-1zM248 499h1v1h-1zM251 499h1v1h-1zM262 499h1v1h-1zM276 499h1v1h-1zM279 499h1v1h-1zM297 499h1v1h-1zM341 499h1v1h-1zM354 499h1v1h-1zM381 499h1v1h-1zM386 499h1v1h-1zM400 499h1v1h-1zM601 499h1v1h-1zM689 499h1v1h-1zM725 499h1v1h-1zM734 499h1v1h-1zM800 499h1v1h-1zM807 499h1v1h-1zM814 499h1v1h-1zM243 500h1v1h-1zM247 500h1v1h-1zM252 500h1v1h-1zM262 500h1v1h-1zM276 500h1v1h-1zM278 500h1v1h-1zM298 500h1v1h-1zM340 500h1v1h-1zM354 500h1v1h-1zM379 500h2v1h-2zM386 500h1v1h-1zM400 500h1v1h-1zM601 500h1v1h-1zM689 500h1v1h-1zM724 500h1v1h-1zM735 500h1v1h-1zM799 500h1v1h-1zM807 500h1v1h-1zM814 500h1v1h-1zM243 501h1v1h-1zM247 501h1v1h-1zM253 501h1v1h-1zM262 501h1v1h-1zM276 501h1v1h-1zM278 501h1v1h-1zM298 501h1v1h-1zM313 501h1v1h-1zM340 501h1v1h-1zM354 501h1v1h-1zM373 501h2v1h-2zM378 501h1v1h-1zM386 501h1v1h-1zM399 501h1v1h-1zM601 501h1v1h-1zM688 501h2v1h-2zM724 501h1v1h-1zM735 501h1v1h-1zM799 501h1v1h-1zM807 501h1v1h-1zM814 501h1v1h-1zM244 502h1v1h-1zM247 502h1v1h-1zM254 502h1v1h-1zM262 502h1v1h-1zM277 502h1v1h-1zM299 502h1v1h-1zM313 502h2v1h-2zM339 502h1v1h-1zM355 502h1v1h-1zM373 502h1v1h-1zM375 502h3v1h-3zM387 502h1v1h-1zM399 502h1v1h-1zM602 502h1v1h-1zM688 502h1v1h-1zM690 502h1v1h-1zM723 502h1v1h-1zM736 502h1v1h-1zM798 502h1v1h-1zM808 502h1v1h-1zM814 502h1v1h-1zM244 503h1v1h-1zM246 503h1v1h-1zM255 503h2v1h-2zM262 503h1v1h-1zM277 503h1v1h-1zM300 503h1v1h-1zM312 503h1v1h-1zM315 503h1v1h-1zM339 503h1v1h-1zM355 503h1v1h-1zM372 503h1v1h-1zM387 503h1v1h-1zM399 503h1v1h-1zM602 503h1v1h-1zM688 503h1v1h-1zM690 503h1v1h-1zM723 503h1v1h-1zM737 503h1v1h-1zM798 503h1v1h-1zM808 503h1v1h-1zM814 503h1v1h-1zM244 504h1v1h-1zM246 504h1v1h-1zM257 504h1v1h-1zM262 504h1v1h-1zM300 504h1v1h-1zM312 504h1v1h-1zM315 504h1v1h-1zM339 504h1v1h-1zM355 504h1v1h-1zM372 504h1v1h-1zM387 504h1v1h-1zM399 504h1v1h-1zM602 504h1v1h-1zM688 504h1v1h-1zM690 504h1v1h-1zM723 504h1v1h-1zM737 504h1v1h-1zM797 504h1v1h-1zM808 504h1v1h-1zM813 504h1v1h-1zM245 505h1v1h-1zM258 505h1v1h-1zM262 505h1v1h-1zM301 505h1v1h-1zM312 505h1v1h-1zM316 505h1v1h-1zM338 505h1v1h-1zM355 505h1v1h-1zM371 505h1v1h-1zM388 505h1v1h-1zM399 505h1v1h-1zM602 505h1v1h-1zM687 505h1v1h-1zM690 505h1v1h-1zM722 505h1v1h-1zM738 505h1v1h-1zM797 505h1v1h-1zM808 505h1v1h-1zM813 505h1v1h-1zM245 506h1v1h-1zM258 506h1v1h-1zM262 506h1v1h-1zM302 506h2v1h-2zM311 506h1v1h-1zM317 506h1v1h-1zM338 506h1v1h-1zM356 506h1v1h-1zM371 506h1v1h-1zM388 506h1v1h-1zM399 506h1v1h-1zM603 506h1v1h-1zM687 506h1v1h-1zM690 506h1v1h-1zM713 506h1v1h-1zM722 506h1v1h-1zM738 506h1v1h-1zM781 506h2v1h-2zM797 506h1v1h-1zM809 506h1v1h-1zM813 506h1v1h-1zM259 507h1v1h-1zM261 507h1v1h-1zM304 507h2v1h-2zM311 507h1v1h-1zM318 507h1v1h-1zM337 507h1v1h-1zM356 507h1v1h-1zM370 507h1v1h-1zM388 507h1v1h-1zM398 507h1v1h-1zM603 507h1v1h-1zM687 507h1v1h-1zM690 507h1v1h-1zM712 507h1v1h-1zM714 507h1v1h-1zM721 507h1v1h-1zM738 507h1v1h-1zM781 507h1v1h-1zM783 507h3v1h-3zM796 507h1v1h-1zM809 507h2v1h-2zM813 507h1v1h-1zM259 508h1v1h-1zM261 508h1v1h-1zM306 508h1v1h-1zM311 508h1v1h-1zM318 508h1v1h-1zM337 508h1v1h-1zM356 508h1v1h-1zM370 508h1v1h-1zM389 508h1v1h-1zM398 508h1v1h-1zM603 508h1v1h-1zM687 508h1v1h-1zM691 508h1v1h-1zM712 508h1v1h-1zM715 508h1v1h-1zM720 508h2v1h-2zM738 508h1v1h-1zM780 508h1v1h-1zM786 508h1v1h-1zM796 508h1v1h-1zM811 508h3v1h-3zM260 509h2v1h-2zM306 509h1v1h-1zM310 509h1v1h-1zM319 509h1v1h-1zM337 509h1v1h-1zM356 509h1v1h-1zM369 509h1v1h-1zM389 509h1v1h-1zM398 509h1v1h-1zM603 509h1v1h-1zM686 509h1v1h-1zM691 509h1v1h-1zM711 509h1v1h-1zM716 509h1v1h-1zM718 509h2v1h-2zM739 509h1v1h-1zM780 509h1v1h-1zM787 509h1v1h-1zM795 509h1v1h-1zM260 510h2v1h-2zM307 510h1v1h-1zM310 510h1v1h-1zM319 510h1v1h-1zM336 510h1v1h-1zM356 510h1v1h-1zM369 510h1v1h-1zM390 510h1v1h-1zM398 510h1v1h-1zM603 510h1v1h-1zM686 510h1v1h-1zM691 510h1v1h-1zM711 510h1v1h-1zM717 510h1v1h-1zM739 510h1v1h-1zM779 510h1v1h-1zM788 510h1v1h-1zM795 510h1v1h-1zM261 511h1v1h-1zM308 511h1v1h-1zM310 511h1v1h-1zM320 511h1v1h-1zM336 511h1v1h-1zM357 511h1v1h-1zM368 511h1v1h-1zM390 511h1v1h-1zM398 511h1v1h-1zM604 511h1v1h-1zM686 511h1v1h-1zM691 511h1v1h-1zM697 511h1v1h-1zM710 511h1v1h-1zM739 511h1v1h-1zM779 511h1v1h-1zM789 511h1v1h-1zM795 511h1v1h-1zM308 512h2v1h-2zM320 512h1v1h-1zM324 512h2v1h-2zM335 512h1v1h-1zM357 512h1v1h-1zM368 512h1v1h-1zM391 512h1v1h-1zM398 512h1v1h-1zM604 512h1v1h-1zM686 512h1v1h-1zM691 512h1v1h-1zM697 512h1v1h-1zM710 512h1v1h-1zM739 512h1v1h-1zM747 512h3v1h-3zM779 512h1v1h-1zM790 512h1v1h-1zM794 512h1v1h-1zM309 513h1v1h-1zM321 513h3v1h-3zM326 513h1v1h-1zM335 513h1v1h-1zM357 513h1v1h-1zM368 513h1v1h-1zM392 513h1v1h-1zM397 513h1v1h-1zM604 513h1v1h-1zM685 513h1v1h-1zM691 513h1v1h-1zM696 513h1v1h-1zM698 513h1v1h-1zM705 513h5v1h-5zM740 513h1v1h-1zM745 513h2v1h-2zM749 513h1v1h-1zM778 513h1v1h-1zM791 513h1v1h-1zM794 513h1v1h-1zM321 514h1v1h-1zM327 514h1v1h-1zM334 514h1v1h-1zM357 514h1v1h-1zM367 514h1v1h-1zM392 514h1v1h-1zM397 514h1v1h-1zM604 514h1v1h-1zM656 514h2v1h-2zM680 514h3v1h-3zM685 514h1v1h-1zM692 514h1v1h-1zM696 514h1v1h-1zM698 514h1v1h-1zM705 514h1v1h-1zM740 514h1v1h-1zM744 514h1v1h-1zM750 514h1v1h-1zM778 514h1v1h-1zM792 514h2v1h-2zM327 515h1v1h-1zM334 515h1v1h-1zM358 515h1v1h-1zM367 515h1v1h-1zM393 515h5v1h-5zM605 515h1v1h-1zM654 515h2v1h-2zM658 515h1v1h-1zM678 515h2v1h-2zM683 515h3v1h-3zM692 515h1v1h-1zM696 515h1v1h-1zM698 515h1v1h-1zM704 515h1v1h-1zM740 515h1v1h-1zM743 515h1v1h-1zM750 515h1v1h-1zM777 515h1v1h-1zM793 515h1v1h-1zM328 516h1v1h-1zM333 516h1v1h-1zM358 516h1v1h-1zM367 516h1v1h-1zM605 516h1v1h-1zM653 516h1v1h-1zM658 516h1v1h-1zM673 516h5v1h-5zM692 516h1v1h-1zM695 516h1v1h-1zM699 516h1v1h-1zM704 516h1v1h-1zM740 516h1v1h-1zM743 516h1v1h-1zM750 516h1v1h-1zM777 516h1v1h-1zM329 517h5v1h-5zM358 517h1v1h-1zM366 517h1v1h-1zM605 517h1v1h-1zM637 517h1v1h-1zM653 517h1v1h-1zM659 517h1v1h-1zM665 517h1v1h-1zM671 517h2v1h-2zM692 517h1v1h-1zM695 517h1v1h-1zM699 517h1v1h-1zM703 517h1v1h-1zM741 517h2v1h-2zM750 517h1v1h-1zM776 517h1v1h-1zM359 518h1v1h-1zM366 518h1v1h-1zM606 518h1v1h-1zM636 518h2v1h-2zM653 518h1v1h-1zM659 518h1v1h-1zM664 518h1v1h-1zM666 518h2v1h-2zM670 518h1v1h-1zM692 518h1v1h-1zM695 518h1v1h-1zM699 518h1v1h-1zM703 518h1v1h-1zM741 518h1v1h-1zM751 518h1v1h-1zM775 518h1v1h-1zM359 519h1v1h-1zM366 519h1v1h-1zM606 519h1v1h-1zM635 519h1v1h-1zM638 519h1v1h-1zM652 519h1v1h-1zM660 519h1v1h-1zM663 519h1v1h-1zM668 519h2v1h-2zM692 519h1v1h-1zM694 519h1v1h-1zM700 519h1v1h-1zM703 519h1v1h-1zM751 519h1v1h-1zM774 519h1v1h-1zM359 520h1v1h-1zM365 520h1v1h-1zM607 520h1v1h-1zM629 520h1v1h-1zM635 520h1v1h-1zM638 520h1v1h-1zM652 520h1v1h-1zM660 520h1v1h-1zM663 520h1v1h-1zM693 520h2v1h-2zM700 520h1v1h-1zM702 520h1v1h-1zM751 520h1v1h-1zM772 520h2v1h-2zM360 521h1v1h-1zM365 521h1v1h-1zM607 521h1v1h-1zM628 521h1v1h-1zM630 521h2v1h-2zM634 521h1v1h-1zM639 521h1v1h-1zM652 521h1v1h-1zM661 521h2v1h-2zM693 521h2v1h-2zM700 521h1v1h-1zM702 521h1v1h-1zM751 521h1v1h-1zM770 521h2v1h-2zM360 522h1v1h-1zM364 522h1v1h-1zM608 522h1v1h-1zM617 522h2v1h-2zM627 522h1v1h-1zM632 522h2v1h-2zM639 522h1v1h-1zM652 522h1v1h-1zM661 522h1v1h-1zM693 522h1v1h-1zM701 522h1v1h-1zM752 522h1v1h-1zM767 522h3v1h-3zM360 523h1v1h-1zM363 523h1v1h-1zM608 523h1v1h-1zM616 523h1v1h-1zM619 523h3v1h-3zM627 523h1v1h-1zM640 523h1v1h-1zM651 523h1v1h-1zM693 523h1v1h-1zM701 523h1v1h-1zM752 523h1v1h-1zM765 523h2v1h-2zM361 524h2v1h-2zM609 524h1v1h-1zM616 524h1v1h-1zM622 524h2v1h-2zM626 524h1v1h-1zM640 524h1v1h-1zM651 524h1v1h-1zM752 524h1v1h-1zM763 524h2v1h-2zM361 525h1v1h-1zM609 525h1v1h-1zM615 525h1v1h-1zM624 525h2v1h-2zM641 525h1v1h-1zM651 525h1v1h-1zM752 525h1v1h-1zM762 525h1v1h-1zM610 526h1v1h-1zM615 526h1v1h-1zM641 526h1v1h-1zM651 526h1v1h-1zM753 526h1v1h-1zM761 526h1v1h-1zM611 527h1v1h-1zM614 527h1v1h-1zM642 527h2v1h-2zM651 527h1v1h-1zM753 527h1v1h-1zM761 527h1v1h-1zM612 528h1v1h-1zM614 528h1v1h-1zM644 528h2v1h-2zM650 528h1v1h-1zM754 528h1v1h-1zM760 528h1v1h-1zM613 529h1v1h-1zM646 529h1v1h-1zM650 529h1v1h-1zM754 529h1v1h-1zM760 529h1v1h-1zM646 530h1v1h-1zM650 530h1v1h-1zM755 530h1v1h-1zM759 530h1v1h-1zM647 531h1v1h-1zM650 531h1v1h-1zM755 531h1v1h-1zM759 531h1v1h-1zM648 532h2v1h-2zM756 532h1v1h-1zM758 532h1v1h-1zM648 533h2v1h-2zM756 533h1v1h-1zM758 533h1v1h-1zM649 534h1v1h-1zM757 534h1v1h-1z" fill="#2aabe0" shape-rendering="crispEdges"/>
<path d="M165 604h1V605h-1zM213 604h1V607h-1zM217 604h1V609h-1zM221 604h1V609h-1zM225 604h1V609h-1zM229 604h1V610h-1zM233 604h1V615h-1zM237 604h1V616h-1zM241 604h1V621h-1zM245 604h1V627h-1zM249 604h1V628h-1zM253 604h1V628h-1zM257 604h1V629h-1zM261 604h1V631h-1zM265 604h1V620h-1zM269 604h1V616h-1zM273 604h1V616h-1zM277 604h1V619h-1zM281 604h1V616h-1zM285 604h1V615h-1zM289 604h1V614h-1zM293 604h1V613h-1zM297 604h1V614h-1zM301 604h1V615h-1zM305 604h1V615h-1zM309 604h1V616h-1zM313 604h1V615h-1zM317 604h1V615h-1zM321 604h1V616h-1zM325 604h1V615h-1zM329 604h1V616h-1zM333 604h1V616h-1zM337 604h1V612h-1zM341 604h1V608h-1zM361 604h1V608h-1zM365 604h1V611h-1zM369 604h1V609h-1zM373 604h1V606h-1zM501 604h1V606h-1zM505 604h1V608h-1zM509 604h1V615h-1zM513 604h1V613h-1zM517 604h1V612h-1zM521 604h1V606h-1zM541 604h1V605h-1zM545 604h1V608h-1zM549 604h1V614h-1zM553 604h1V617h-1zM557 604h1V611h-1zM569 604h1V605h-1zM573 604h1V609h-1zM577 604h1V614h-1zM581 604h1V616h-1zM585 604h1V616h-1zM589 604h1V615h-1zM593 604h1V618h-1zM597 604h1V623h-1zM601 604h1V628h-1zM605 604h1V638h-1zM609 604h1V648h-1zM613 604h1V652h-1zM617 604h1V651h-1zM621 604h1V650h-1zM625 604h1V646h-1zM629 604h1V641h-1zM633 604h1V636h-1zM637 604h1V631h-1zM641 604h1V629h-1zM645 604h1V626h-1zM649 604h1V629h-1zM653 604h1V623h-1zM657 604h1V617h-1zM661 604h1V615h-1zM665 604h1V611h-1zM669 604h1V609h-1zM673 604h1V606h-1zM701 604h1V605h-1zM705 604h1V606h-1zM709 604h1V606h-1zM753 604h1V608h-1zM757 604h1V616h-1zM761 604h1V618h-1zM765 604h1V616h-1zM769 604h1V615h-1zM773 604h1V612h-1zM777 604h1V608h-1zM893 604h1V608h-1z" fill="#4eb283" shape-rendering="crispEdges"/>
<path d="M93 595h1V604h-1zM97 596h1V604h-1zM101 593h1V604h-1zM105 591h1V604h-1zM109 590h1V604h-1zM113 591h1V604h-1zM117 592h1V604h-1zM121 593h1V604h-1zM125 591h1V604h-1zM129 592h1V604h-1zM133 591h1V604h-1zM137 592h1V604h-1zM141 588h1V604h-1zM145 591h1V604h-1zM149 592h1V604h-1zM153 593h1V604h-1zM157 595h1V604h-1zM161 601h1V604h-1zM169 600h1V604h-1zM173 594h1V604h-1zM177 585h1V604h-1zM181 580h1V604h-1zM185 579h1V604h-1zM189 580h1V604h-1zM193 582h1V604h-1zM197 586h1V604h-1zM201 591h1V604h-1zM205 595h1V604h-1zM209 601h1V604h-1zM345 602h1V604h-1zM349 599h1V604h-1zM353 597h1V604h-1zM357 601h1V604h-1zM381 600h1V604h-1zM385 598h1V604h-1zM389 600h1V604h-1zM393 602h1V604h-1zM401 600h1V604h-1zM405 593h1V604h-1zM409 585h1V604h-1zM413 577h1V604h-1zM417 570h1V604h-1zM421 570h1V604h-1zM425 568h1V604h-1zM429 568h1V604h-1zM433 570h1V604h-1zM437 574h1V604h-1zM441 577h1V604h-1zM445 583h1V604h-1zM449 584h1V604h-1zM453 586h1V604h-1zM457 585h1V604h-1zM461 583h1V604h-1zM465 579h1V604h-1zM469 576h1V604h-1zM473 578h1V604h-1zM477 581h1V604h-1zM481 585h1V604h-1zM485 589h1V604h-1zM489 593h1V604h-1zM493 597h1V604h-1zM497 601h1V604h-1zM529 602h1V604h-1zM533 601h1V604h-1zM561 599h1V604h-1zM565 599h1V604h-1zM677 602h1V604h-1zM681 599h1V604h-1zM685 598h1V604h-1zM689 592h1V604h-1zM693 599h1V604h-1zM697 600h1V604h-1zM713 602h1V604h-1zM717 601h1V604h-1zM721 599h1V604h-1zM725 595h1V604h-1zM729 591h1V604h-1zM733 589h1V604h-1zM737 590h1V604h-1zM741 596h1V604h-1zM745 598h1V604h-1zM749 599h1V604h-1zM781 601h1V604h-1zM785 597h1V604h-1zM789 596h1V604h-1zM793 596h1V604h-1zM797 593h1V604h-1zM801 590h1V604h-1zM805 587h1V604h-1zM809 589h1V604h-1zM813 591h1V604h-1zM817 583h1V604h-1zM821 576h1V604h-1zM825 572h1V604h-1zM829 572h1V604h-1zM833 574h1V604h-1zM837 573h1V604h-1zM841 581h1V604h-1zM845 581h1V604h-1zM849 583h1V604h-1zM853 585h1V604h-1zM857 587h1V604h-1zM861 590h1V604h-1zM865 592h1V604h-1zM869 594h1V604h-1zM873 594h1V604h-1zM877 594h1V604h-1zM881 598h1V604h-1zM885 602h1V604h-1zM889 602h1V604h-1z" fill="#ea4a5f" shape-rendering="crispEdges"/>
<path d="M491 563h15v1h-15zM487 564h4v1h-4zM506 564h2v1h-2zM483 565h4v1h-4zM508 565h3v1h-3zM480 566h3v1h-3zM511 566h4v1h-4zM478 567h2v1h-2zM515 567h28v1h-28zM477 568h1v1h-1zM543 568h4v1h-4zM475 569h2v1h-2zM547 569h4v1h-4zM474 570h1v1h-1zM551 570h4v1h-4zM203 571h8v1h-8zM473 571h1v1h-1zM555 571h16v1h-16zM199 572h4v1h-4zM211 572h4v1h-4zM471 572h2v1h-2zM571 572h3v1h-3zM196 573h3v1h-3zM215 573h4v1h-4zM470 573h1v1h-1zM574 573h2v1h-2zM194 574h2v1h-2zM219 574h4v1h-4zM469 574h1v1h-1zM576 574h3v1h-3zM193 575h1v1h-1zM223 575h4v1h-4zM467 575h2v1h-2zM579 575h3v1h-3zM191 576h2v1h-2zM227 576h4v1h-4zM466 576h1v1h-1zM582 576h2v1h-2zM190 577h1v1h-1zM231 577h3v1h-3zM465 577h1v1h-1zM584 577h3v1h-3zM189 578h1v1h-1zM234 578h2v1h-2zM463 578h2v1h-2zM587 578h3v1h-3zM187 579h2v1h-2zM236 579h2v1h-2zM462 579h1v1h-1zM590 579h2v1h-2zM186 580h1v1h-1zM238 580h1v1h-1zM460 580h2v1h-2zM592 580h2v1h-2zM185 581h1v1h-1zM239 581h2v1h-2zM458 581h2v1h-2zM594 581h1v1h-1zM183 582h2v1h-2zM241 582h1v1h-1zM456 582h2v1h-2zM595 582h2v1h-2zM182 583h1v1h-1zM242 583h1v1h-1zM454 583h2v1h-2zM597 583h1v1h-1zM181 584h1v1h-1zM243 584h2v1h-2zM453 584h1v1h-1zM598 584h1v1h-1zM179 585h2v1h-2zM245 585h1v1h-1zM451 585h2v1h-2zM599 585h1v1h-1zM178 586h1v1h-1zM246 586h1v1h-1zM450 586h1v1h-1zM600 586h1v1h-1zM176 587h2v1h-2zM247 587h1v1h-1zM448 587h2v1h-2zM601 587h1v1h-1zM174 588h2v1h-2zM248 588h1v1h-1zM446 588h2v1h-2zM602 588h1v1h-1zM172 589h2v1h-2zM249 589h1v1h-1zM444 589h2v1h-2zM603 589h1v1h-1zM170 590h2v1h-2zM250 590h1v1h-1zM442 590h2v1h-2zM604 590h1v1h-1zM156 591h14v1h-14zM251 591h2v1h-2zM441 591h1v1h-1zM605 591h1v1h-1zM154 592h2v1h-2zM253 592h1v1h-1zM439 592h2v1h-2zM606 592h1v1h-1zM147 593h7v1h-7zM254 593h1v1h-1zM438 593h1v1h-1zM607 593h1v1h-1zM144 594h3v1h-3zM255 594h2v1h-2zM437 594h1v1h-1zM607 594h1v1h-1zM142 595h2v1h-2zM257 595h1v1h-1zM436 595h1v1h-1zM608 595h1v1h-1zM140 596h2v1h-2zM258 596h1v1h-1zM435 596h1v1h-1zM609 596h1v1h-1zM876 596h18v1h-18zM138 597h2v1h-2zM259 597h2v1h-2zM434 597h1v1h-1zM610 597h1v1h-1zM874 597h2v1h-2zM135 598h3v1h-3zM261 598h2v1h-2zM433 598h1v1h-1zM610 598h1v1h-1zM871 598h3v1h-3zM131 599h4v1h-4zM263 599h3v1h-3zM432 599h1v1h-1zM611 599h1v1h-1zM867 599h4v1h-4zM128 600h3v1h-3zM266 600h2v1h-2zM431 600h1v1h-1zM611 600h1v1h-1zM863 600h4v1h-4zM126 601h2v1h-2zM268 601h3v1h-3zM430 601h1v1h-1zM612 601h1v1h-1zM859 601h4v1h-4zM123 602h3v1h-3zM271 602h3v1h-3zM429 602h1v1h-1zM612 602h1v1h-1zM856 602h3v1h-3zM120 603h3v1h-3zM274 603h2v1h-2zM428 603h1v1h-1zM613 603h1v1h-1zM854 603h2v1h-2zM118 604h2v1h-2zM276 604h2v1h-2zM427 604h1v1h-1zM614 604h1v1h-1zM851 604h3v1h-3zM115 605h3v1h-3zM278 605h2v1h-2zM426 605h1v1h-1zM614 605h1v1h-1zM848 605h3v1h-3zM111 606h4v1h-4zM280 606h2v1h-2zM425 606h1v1h-1zM615 606h1v1h-1zM846 606h2v1h-2zM108 607h3v1h-3zM282 607h2v1h-2zM424 607h1v1h-1zM615 607h1v1h-1zM845 607h1v1h-1zM106 608h2v1h-2zM284 608h2v1h-2zM423 608h1v1h-1zM616 608h1v1h-1zM843 608h2v1h-2zM104 609h2v1h-2zM286 609h2v1h-2zM423 609h1v1h-1zM616 609h1v1h-1zM842 609h1v1h-1zM102 610h2v1h-2zM288 610h2v1h-2zM422 610h1v1h-1zM617 610h1v1h-1zM841 610h1v1h-1zM99 611h3v1h-3zM290 611h2v1h-2zM421 611h1v1h-1zM618 611h1v1h-1zM839 611h2v1h-2zM95 612h4v1h-4zM292 612h3v1h-3zM420 612h1v1h-1zM619 612h1v1h-1zM838 612h1v1h-1zM93 613h2v1h-2zM295 613h3v1h-3zM419 613h1v1h-1zM619 613h1v1h-1zM837 613h1v1h-1zM298 614h2v1h-2zM418 614h1v1h-1zM620 614h1v1h-1zM835 614h2v1h-2zM300 615h3v1h-3zM417 615h1v1h-1zM621 615h1v1h-1zM834 615h1v1h-1zM303 616h3v1h-3zM416 616h1v1h-1zM622 616h1v1h-1zM833 616h1v1h-1zM306 617h2v1h-2zM415 617h1v1h-1zM622 617h1v1h-1zM832 617h1v1h-1zM308 618h3v1h-3zM414 618h1v1h-1zM623 618h1v1h-1zM831 618h1v1h-1zM311 619h4v1h-4zM413 619h1v1h-1zM624 619h1v1h-1zM830 619h1v1h-1zM315 620h4v1h-4zM412 620h1v1h-1zM624 620h1v1h-1zM829 620h1v1h-1zM319 621h7v1h-7zM411 621h1v1h-1zM625 621h1v1h-1zM828 621h1v1h-1zM326 622h2v1h-2zM410 622h1v1h-1zM626 622h1v1h-1zM827 622h1v1h-1zM328 623h2v1h-2zM408 623h2v1h-2zM627 623h1v1h-1zM826 623h1v1h-1zM330 624h2v1h-2zM406 624h2v1h-2zM628 624h1v1h-1zM825 624h1v1h-1zM332 625h3v1h-3zM347 625h16v1h-16zM403 625h3v1h-3zM629 625h1v1h-1zM824 625h1v1h-1zM335 626h12v1h-12zM363 626h4v1h-4zM383 626h20v1h-20zM630 626h1v1h-1zM823 626h1v1h-1zM367 627h16v1h-16zM631 627h1v1h-1zM823 627h1v1h-1zM632 628h1v1h-1zM822 628h1v1h-1zM633 629h1v1h-1zM820 629h2v1h-2zM634 630h1v1h-1zM818 630h2v1h-2zM635 631h2v1h-2zM817 631h1v1h-1zM637 632h1v1h-1zM815 632h2v1h-2zM638 633h1v1h-1zM814 633h1v1h-1zM639 634h2v1h-2zM812 634h2v1h-2zM641 635h1v1h-1zM810 635h2v1h-2zM642 636h1v1h-1zM807 636h3v1h-3zM643 637h2v1h-2zM739 637h12v1h-12zM804 637h3v1h-3zM645 638h1v1h-1zM736 638h3v1h-3zM751 638h3v1h-3zM802 638h2v1h-2zM646 639h2v1h-2zM734 639h2v1h-2zM754 639h2v1h-2zM800 639h2v1h-2zM648 640h2v1h-2zM731 640h3v1h-3zM756 640h3v1h-3zM798 640h2v1h-2zM650 641h2v1h-2zM728 641h3v1h-3zM759 641h3v1h-3zM795 641h3v1h-3zM652 642h2v1h-2zM726 642h2v1h-2zM762 642h2v1h-2zM791 642h4v1h-4zM654 643h2v1h-2zM723 643h3v1h-3zM764 643h3v1h-3zM787 643h4v1h-4zM656 644h3v1h-3zM691 644h8v1h-8zM719 644h4v1h-4zM767 644h4v1h-4zM783 644h4v1h-4zM659 645h4v1h-4zM687 645h4v1h-4zM699 645h20v1h-20zM771 645h4v1h-4zM779 645h4v1h-4zM663 646h4v1h-4zM683 646h4v1h-4zM775 646h4v1h-4zM667 647h16v1h-16z" fill="#45c890" shape-rendering="crispEdges"/>
<path d="M475 558h15v1h-15zM473 559h2v1h-2zM490 559h2v1h-2zM471 560h2v1h-2zM492 560h2v1h-2zM470 561h1v1h-1zM494 561h2v1h-2zM469 562h1v1h-1zM496 562h2v1h-2zM468 563h1v1h-1zM498 563h2v1h-2zM467 564h1v1h-1zM500 564h2v1h-2zM467 565h1v1h-1zM502 565h2v1h-2zM191 566h8v1h-8zM466 566h1v1h-1zM504 566h2v1h-2zM531 566h4v1h-4zM189 567h2v1h-2zM199 567h4v1h-4zM465 567h1v1h-1zM506 567h1v1h-1zM527 567h4v1h-4zM535 567h4v1h-4zM187 568h2v1h-2zM203 568h3v1h-3zM464 568h1v1h-1zM507 568h1v1h-1zM521 568h6v1h-6zM539 568h3v1h-3zM186 569h1v1h-1zM206 569h2v1h-2zM463 569h1v1h-1zM507 569h1v1h-1zM519 569h2v1h-2zM542 569h2v1h-2zM561 569h5v1h-5zM185 570h1v1h-1zM208 570h2v1h-2zM462 570h1v1h-1zM508 570h1v1h-1zM518 570h1v1h-1zM544 570h2v1h-2zM560 570h1v1h-1zM566 570h1v1h-1zM183 571h2v1h-2zM210 571h1v1h-1zM461 571h1v1h-1zM509 571h9v1h-9zM546 571h1v1h-1zM559 571h1v1h-1zM567 571h1v1h-1zM182 572h1v1h-1zM211 572h1v1h-1zM459 572h2v1h-2zM547 572h2v1h-2zM559 572h1v1h-1zM568 572h1v1h-1zM181 573h1v1h-1zM212 573h1v1h-1zM458 573h1v1h-1zM549 573h1v1h-1zM558 573h1v1h-1zM569 573h1v1h-1zM180 574h1v1h-1zM213 574h2v1h-2zM457 574h1v1h-1zM550 574h1v1h-1zM557 574h1v1h-1zM570 574h2v1h-2zM180 575h1v1h-1zM215 575h3v1h-3zM455 575h2v1h-2zM551 575h1v1h-1zM555 575h2v1h-2zM572 575h2v1h-2zM179 576h1v1h-1zM218 576h2v1h-2zM454 576h1v1h-1zM552 576h1v1h-1zM554 576h1v1h-1zM574 576h1v1h-1zM178 577h1v1h-1zM220 577h3v1h-3zM451 577h3v1h-3zM553 577h1v1h-1zM575 577h1v1h-1zM178 578h1v1h-1zM223 578h4v1h-4zM448 578h3v1h-3zM576 578h1v1h-1zM177 579h1v1h-1zM227 579h3v1h-3zM439 579h4v1h-4zM446 579h2v1h-2zM577 579h1v1h-1zM176 580h1v1h-1zM230 580h1v1h-1zM436 580h3v1h-3zM443 580h3v1h-3zM578 580h2v1h-2zM176 581h1v1h-1zM231 581h2v1h-2zM434 581h2v1h-2zM580 581h3v1h-3zM175 582h1v1h-1zM233 582h1v1h-1zM432 582h2v1h-2zM583 582h4v1h-4zM175 583h1v1h-1zM234 583h1v1h-1zM430 583h2v1h-2zM587 583h3v1h-3zM174 584h1v1h-1zM235 584h2v1h-2zM429 584h1v1h-1zM590 584h1v1h-1zM174 585h1v1h-1zM237 585h1v1h-1zM428 585h1v1h-1zM591 585h1v1h-1zM173 586h1v1h-1zM238 586h1v1h-1zM427 586h1v1h-1zM592 586h1v1h-1zM172 587h1v1h-1zM239 587h1v1h-1zM426 587h1v1h-1zM593 587h1v1h-1zM151 588h8v1h-8zM171 588h1v1h-1zM239 588h1v1h-1zM425 588h1v1h-1zM594 588h1v1h-1zM141 589h10v1h-10zM159 589h3v1h-3zM170 589h1v1h-1zM240 589h1v1h-1zM424 589h1v1h-1zM595 589h1v1h-1zM140 590h1v1h-1zM162 590h1v1h-1zM168 590h2v1h-2zM241 590h1v1h-1zM424 590h1v1h-1zM595 590h1v1h-1zM139 591h1v1h-1zM163 591h2v1h-2zM166 591h2v1h-2zM242 591h1v1h-1zM423 591h1v1h-1zM596 591h1v1h-1zM138 592h1v1h-1zM165 592h1v1h-1zM243 592h1v1h-1zM422 592h1v1h-1zM597 592h1v1h-1zM135 593h3v1h-3zM243 593h1v1h-1zM422 593h1v1h-1zM598 593h1v1h-1zM871 593h11v1h-11zM131 594h4v1h-4zM244 594h1v1h-1zM421 594h1v1h-1zM599 594h1v1h-1zM867 594h4v1h-4zM882 594h2v1h-2zM127 595h4v1h-4zM245 595h1v1h-1zM420 595h1v1h-1zM599 595h1v1h-1zM855 595h12v1h-12zM884 595h3v1h-3zM124 596h3v1h-3zM246 596h1v1h-1zM419 596h1v1h-1zM600 596h1v1h-1zM851 596h4v1h-4zM887 596h3v1h-3zM122 597h2v1h-2zM247 597h1v1h-1zM419 597h1v1h-1zM601 597h1v1h-1zM848 597h3v1h-3zM890 597h2v1h-2zM120 598h2v1h-2zM248 598h1v1h-1zM418 598h1v1h-1zM601 598h1v1h-1zM846 598h2v1h-2zM892 598h2v1h-2zM118 599h2v1h-2zM249 599h1v1h-1zM417 599h1v1h-1zM602 599h1v1h-1zM843 599h3v1h-3zM109 600h9v1h-9zM250 600h1v1h-1zM416 600h1v1h-1zM602 600h1v1h-1zM837 600h6v1h-6zM108 601h1v1h-1zM251 601h1v1h-1zM416 601h1v1h-1zM602 601h1v1h-1zM836 601h1v1h-1zM107 602h1v1h-1zM252 602h1v1h-1zM415 602h1v1h-1zM603 602h1v1h-1zM835 602h1v1h-1zM106 603h1v1h-1zM253 603h1v1h-1zM415 603h1v1h-1zM603 603h1v1h-1zM834 603h1v1h-1zM104 604h2v1h-2zM254 604h1v1h-1zM414 604h1v1h-1zM604 604h1v1h-1zM833 604h1v1h-1zM102 605h2v1h-2zM255 605h2v1h-2zM414 605h1v1h-1zM604 605h1v1h-1zM831 605h2v1h-2zM101 606h1v1h-1zM257 606h1v1h-1zM269 606h1v1h-1zM413 606h1v1h-1zM604 606h1v1h-1zM830 606h1v1h-1zM99 607h2v1h-2zM258 607h1v1h-1zM267 607h2v1h-2zM270 607h2v1h-2zM413 607h1v1h-1zM605 607h1v1h-1zM829 607h1v1h-1zM98 608h1v1h-1zM259 608h1v1h-1zM266 608h1v1h-1zM272 608h2v1h-2zM412 608h1v1h-1zM605 608h1v1h-1zM828 608h1v1h-1zM93 609h5v1h-5zM260 609h1v1h-1zM263 609h3v1h-3zM274 609h1v1h-1zM412 609h1v1h-1zM605 609h1v1h-1zM827 609h1v1h-1zM261 610h2v1h-2zM275 610h2v1h-2zM411 610h1v1h-1zM606 610h1v1h-1zM826 610h1v1h-1zM277 611h2v1h-2zM411 611h1v1h-1zM606 611h1v1h-1zM825 611h1v1h-1zM279 612h3v1h-3zM410 612h1v1h-1zM606 612h1v1h-1zM824 612h1v1h-1zM282 613h2v1h-2zM410 613h1v1h-1zM607 613h1v1h-1zM823 613h1v1h-1zM284 614h3v1h-3zM409 614h1v1h-1zM607 614h1v1h-1zM823 614h1v1h-1zM287 615h4v1h-4zM408 615h1v1h-1zM608 615h1v1h-1zM822 615h1v1h-1zM291 616h4v1h-4zM408 616h1v1h-1zM608 616h1v1h-1zM821 616h1v1h-1zM295 617h3v1h-3zM407 617h1v1h-1zM608 617h1v1h-1zM820 617h1v1h-1zM298 618h2v1h-2zM406 618h1v1h-1zM609 618h1v1h-1zM820 618h1v1h-1zM300 619h2v1h-2zM406 619h1v1h-1zM609 619h1v1h-1zM819 619h1v1h-1zM302 620h2v1h-2zM405 620h1v1h-1zM610 620h1v1h-1zM819 620h1v1h-1zM304 621h2v1h-2zM404 621h1v1h-1zM610 621h1v1h-1zM818 621h1v1h-1zM306 622h2v1h-2zM348 622h6v1h-6zM403 622h1v1h-1zM611 622h1v1h-1zM818 622h1v1h-1zM308 623h7v1h-7zM346 623h2v1h-2zM354 623h2v1h-2zM402 623h1v1h-1zM611 623h1v1h-1zM817 623h1v1h-1zM315 624h3v1h-3zM344 624h2v1h-2zM356 624h2v1h-2zM400 624h2v1h-2zM612 624h1v1h-1zM816 624h1v1h-1zM318 625h1v1h-1zM342 625h2v1h-2zM358 625h1v1h-1zM383 625h12v1h-12zM398 625h2v1h-2zM612 625h1v1h-1zM816 625h1v1h-1zM319 626h2v1h-2zM341 626h1v1h-1zM359 626h2v1h-2zM379 626h4v1h-4zM395 626h3v1h-3zM613 626h1v1h-1zM815 626h1v1h-1zM321 627h1v1h-1zM339 627h2v1h-2zM361 627h1v1h-1zM376 627h3v1h-3zM613 627h1v1h-1zM815 627h1v1h-1zM322 628h2v1h-2zM338 628h1v1h-1zM362 628h1v1h-1zM374 628h2v1h-2zM614 628h1v1h-1zM814 628h1v1h-1zM324 629h3v1h-3zM336 629h2v1h-2zM363 629h2v1h-2zM371 629h3v1h-3zM614 629h1v1h-1zM814 629h1v1h-1zM327 630h4v1h-4zM334 630h2v1h-2zM365 630h6v1h-6zM615 630h1v1h-1zM805 630h9v1h-9zM331 631h3v1h-3zM616 631h1v1h-1zM803 631h2v1h-2zM616 632h1v1h-1zM802 632h1v1h-1zM617 633h1v1h-1zM733 633h5v1h-5zM801 633h1v1h-1zM618 634h1v1h-1zM731 634h2v1h-2zM738 634h2v1h-2zM799 634h2v1h-2zM619 635h1v1h-1zM730 635h1v1h-1zM740 635h3v1h-3zM798 635h1v1h-1zM620 636h1v1h-1zM729 636h1v1h-1zM743 636h4v1h-4zM797 636h1v1h-1zM621 637h1v1h-1zM728 637h1v1h-1zM747 637h3v1h-3zM795 637h2v1h-2zM622 638h1v1h-1zM727 638h1v1h-1zM750 638h1v1h-1zM794 638h1v1h-1zM623 639h1v1h-1zM726 639h1v1h-1zM751 639h1v1h-1zM791 639h3v1h-3zM624 640h1v1h-1zM689 640h1v1h-1zM725 640h1v1h-1zM752 640h1v1h-1zM787 640h4v1h-4zM625 641h1v1h-1zM688 641h1v1h-1zM690 641h1v1h-1zM723 641h2v1h-2zM753 641h1v1h-1zM785 641h2v1h-2zM626 642h2v1h-2zM687 642h1v1h-1zM691 642h2v1h-2zM722 642h1v1h-1zM754 642h1v1h-1zM783 642h2v1h-2zM628 643h7v1h-7zM686 643h1v1h-1zM693 643h5v1h-5zM719 643h3v1h-3zM755 643h1v1h-1zM782 643h1v1h-1zM635 644h3v1h-3zM683 644h3v1h-3zM698 644h1v1h-1zM715 644h4v1h-4zM756 644h1v1h-1zM781 644h1v1h-1zM638 645h2v1h-2zM679 645h4v1h-4zM699 645h2v1h-2zM712 645h3v1h-3zM757 645h1v1h-1zM779 645h2v1h-2zM640 646h2v1h-2zM675 646h4v1h-4zM701 646h2v1h-2zM710 646h2v1h-2zM758 646h1v1h-1zM778 646h1v1h-1zM642 647h2v1h-2zM671 647h4v1h-4zM703 647h7v1h-7zM759 647h2v1h-2zM775 647h3v1h-3zM644 648h2v1h-2zM668 648h3v1h-3zM761 648h1v1h-1zM772 648h3v1h-3zM646 649h1v1h-1zM666 649h2v1h-2zM762 649h2v1h-2zM770 649h2v1h-2zM647 650h2v1h-2zM663 650h3v1h-3zM764 650h6v1h-6zM649 651h14v1h-14z" fill="#2a8cff" shape-rendering="crispEdges"/>
<text x="86.9" y="25.0" text-anchor="end" font-size="12.4" fill="#272c4b" font-weight="normal">67.13</text>
<text x="1018.4" y="25.0" text-anchor="start" font-size="12.4" fill="#272c4b" font-weight="normal">67.13</text>
<text x="86.9" y="79.0" text-anchor="end" font-size="12.4" fill="#272c4b" font-weight="normal">66.10</text>
<text x="1018.4" y="79.0" text-anchor="start" font-size="12.4" fill="#272c4b" font-weight="normal">66.10</text>
<text x="86.9" y="133.0" text-anchor="end" font-size="12.4" fill="#272c4b" font-weight="normal">65.07</text>
<text x="1018.4" y="133.0" text-anchor="start" font-size="12.4" fill="#272c4b" font-weight="normal">65.07</text>
<text x="86.9" y="188.0" text-anchor="end" font-size="12.4" fill="#272c4b" font-weight="normal">64.04</text>
<text x="1018.4" y="188.0" text-anchor="start" font-size="12.4" fill="#272c4b" font-weight="normal">64.04</text>
<text x="86.9" y="242.0" text-anchor="end" font-size="12.4" fill="#272c4b" font-weight="normal">63.02</text>
<text x="1018.4" y="242.0" text-anchor="start" font-size="12.4" fill="#272c4b" font-weight="normal">63.02</text>
<text x="86.9" y="297.0" text-anchor="end" font-size="12.4" fill="#272c4b" font-weight="normal">61.99</text>
<text x="1018.4" y="297.0" text-anchor="start" font-size="12.4" fill="#272c4b" font-weight="normal">61.99</text>
<text x="86.9" y="351.0" text-anchor="end" font-size="12.4" fill="#272c4b" font-weight="normal">60.96</text>
<text x="1018.4" y="351.0" text-anchor="start" font-size="12.4" fill="#272c4b" font-weight="normal">60.96</text>
<text x="86.9" y="427.0" text-anchor="end" font-size="12.4" fill="#272c4b" font-weight="normal">77.76</text>
<text x="1018.4" y="427.0" text-anchor="start" font-size="12.4" fill="#272c4b" font-weight="normal">77.76</text>
<text x="86.9" y="455.0" text-anchor="end" font-size="12.4" fill="#272c4b" font-weight="normal">64.50</text>
<text x="1018.4" y="455.0" text-anchor="start" font-size="12.4" fill="#272c4b" font-weight="normal">64.50</text>
<text x="86.9" y="483.0" text-anchor="end" font-size="12.4" fill="#272c4b" font-weight="normal">51.23</text>
<text x="1018.4" y="483.0" text-anchor="start" font-size="12.4" fill="#272c4b" font-weight="normal">51.23</text>
<text x="86.9" y="511.0" text-anchor="end" font-size="12.4" fill="#272c4b" font-weight="normal">37.96</text>
<text x="1018.4" y="511.0" text-anchor="start" font-size="12.4" fill="#272c4b" font-weight="normal">37.96</text>
<text x="86.9" y="560.0" text-anchor="end" font-size="12.4" fill="#272c4b" font-weight="normal">0.53</text>
<text x="1018.4" y="560.0" text-anchor="start" font-size="12.4" fill="#272c4b" font-weight="normal">0.53</text>
<text x="86.9" y="584.0" text-anchor="end" font-size="12.4" fill="#272c4b" font-weight="normal">0.25</text>
<text x="1018.4" y="584.0" text-anchor="start" font-size="12.4" fill="#272c4b" font-weight="normal">0.25</text>
<text x="86.9" y="608.0" text-anchor="end" font-size="12.4" fill="#272c4b" font-weight="normal">-0.03</text>
<text x="1018.4" y="608.0" text-anchor="start" font-size="12.4" fill="#272c4b" font-weight="normal">-0.03</text>
<text x="86.9" y="632.0" text-anchor="end" font-size="12.4" fill="#272c4b" font-weight="normal">-0.31</text>
<text x="1018.4" y="632.0" text-anchor="start" font-size="12.4" fill="#272c4b" font-weight="normal">-0.31</text>
<line x1="97.5" y1="652" x2="97.5" y2="657" stroke="#c9d3de"/>
<text x="99.4" y="665.8" text-anchor="start" font-size="12" fill="#23263c" font-weight="bold">09/15</text>
<line x1="273.5" y1="652" x2="273.5" y2="657" stroke="#c9d3de"/>
<text x="275.4" y="665.8" text-anchor="start" font-size="12" fill="#23263c" font-weight="bold">09/19</text>
<line x1="417.5" y1="652" x2="417.5" y2="657" stroke="#c9d3de"/>
<text x="419.4" y="665.8" text-anchor="start" font-size="12" fill="#23263c" font-weight="bold">09/24</text>
<line x1="561.5" y1="652" x2="561.5" y2="657" stroke="#c9d3de"/>
<text x="563.4" y="665.8" text-anchor="start" font-size="12" fill="#23263c" font-weight="bold">09/27</text>
<line x1="705.5" y1="652" x2="705.5" y2="657" stroke="#c9d3de"/>
<text x="707.4" y="665.8" text-anchor="start" font-size="12" fill="#23263c" font-weight="bold">10/02</text>
<line x1="849.5" y1="652" x2="849.5" y2="657" stroke="#c9d3de"/>
<text x="851.4" y="665.8" text-anchor="start" font-size="12" fill="#23263c" font-weight="bold">10/07</text>
<rect x="1015.5" y="328.5" width="68" height="17" fill="#fff" stroke="#ff7a0f" stroke-width="1"/>
<text x="1018" y="341.200" font-size="12" fill="#ff7a0f">61.33</text>
<path d="M1074.500 328l4.500-3.700 4.500 3.700zM1074.800 323.800l4.200-3.700 4.200 3.700z" fill="#ff7a0f"/>
<g transform="translate(952,1)"><rect x="0.5" y="0.5" width="13" height="13" fill="#fff" stroke="#1577d3"/><path d="M6 2h2v3h-2zM6 9h2v3h-2zM2 6h3v2h-3zM9 6h3v2h-3z" fill="#1577d3"/></g>
<g transform="translate(968,1)"><rect x="0.5" y="0.5" width="13" height="13" fill="#fff" stroke="#1577d3"/><path d="M3 3h1v9h-1zM2 10h10v1h-10z" fill="#1577d3" shape-rendering="crispEdges"/><path d="M3.500 1.900l1.600 2.100h-3.200zM3.500 12.600l1.500-1.700h-3zM12.300 10.500l-2.100-1.500v3zM1.400 10.500l1.700-1.400v2.800z" fill="#1577d3"/><path d="M6 3.500h1.100v5h-1.100zM10 3.700v4.600L7.400 6z" fill="#1577d3"/></g>
<g transform="translate(984,1)"><rect x="0" y="0" width="14" height="14" fill="#1577d3"/><path d="M3 3h1v9h-1zM2 10h10v1h-10z" fill="#fff" shape-rendering="crispEdges"/><path d="M3.500 1.900l1.600 2.100h-3.200zM3.500 12.600l1.500-1.700h-3zM12.300 10.500l-2.100-1.500v3zM1.400 10.500l1.700-1.400v2.800z" fill="#fff"/><path d="M4.800 3.400h1.400v5.700h-1.400z" fill="#fff"/><path d="M6.600 3.700L11 6.300 6.600 8.900z" fill="#fff" fill-opacity="0.75" stroke="#fff" stroke-width="0.5"/></g>
<g transform="translate(1000,1)"><rect x="0.5" y="0.5" width="13" height="13" fill="#fff" stroke="#1577d3"/><path d="M2.500 2.500h3v9h-3z" stroke="#1577d3" stroke-width="1" fill="#fff"/><path d="M4.500 6h4V4.200l3.200 2.800-3.200 2.800V8H4.500z" fill="#1577d3"/></g>
<g stroke="#ff8a1f" stroke-width="1" fill="none"><circle cx="213.800" cy="11.300" r="3.900"/><path d="M209.900 11.300h7.800M213.800 7.400v7.800" stroke-width="0.9"/></g>
<g><path d="M227.500 14.500h11.500v-12" stroke="#8d8d8d" stroke-width="1" fill="none"/><rect x="226.500" y="1.500" width="11.500" height="12" fill="#fff" stroke="#00008b" stroke-width="1.200"/><path d="M227.100 8.600L230.400 4.400 233.200 7.200 235.400 5.300H237.500" stroke="#ff0000" stroke-width="1.100" fill="none"/><path d="M227.100 11.600L230.400 7.700 233.200 10.500 235.400 8.300H237.500" stroke="#0000ff" stroke-width="1.100" fill="none"/></g>
<g transform="translate(28.900,542.700)"><circle r="2" fill="#ff0000"/><circle r="3.600" fill="none" stroke="#000" stroke-width="1"/><path d="M0-6.800v1.700M0 5.100v1.700M-6.800 0h1.700M5.100 0h1.700M-5.300-5.300l1.300 1.300M4 4l1.300 1.300M-5.300 5.300l1.300-1.300M4-4l1.300-1.300" stroke="#ff0000" stroke-width="1.100"/></g>
<text x="955.500" y="663.400" font-size="30.5" fill="#dbe8f8" letter-spacing="1.9" style="filter:drop-shadow(1px 1px 0.5px #c4ab96)">FX678</text>
</svg>
<div class="side"></div>
<div class="stab" style="top:0;height:51px;padding-top:5.5px"><span>分</span><span>时</span><span>图</span></div>
<div class="stab on" style="top:51px;height:46px;padding-top:4px"><span style="font-family:'Liberation Mono',monospace;font-size:11px">K</span><span>线</span><span>图</span></div>
<div class="stab" style="top:97px;height:52px;padding-top:7.5px"><span>闪</span><span>电</span><span>图</span></div>
<div class="stab" style="top:149px;height:64px;padding-top:7.8px;line-height:13.7px"><span>合</span><span>约</span><span>资</span><span>料</span></div>
<div class="hdr" style="left:92px;color:#111">美原油连续<span style="color:#ff7f1a">【120分】</span></div>
<div class="hdr" style="left:241px;color:#111">EXPMA(50,100,20,200)</div>
<div class="hdr" style="left:374.5px;color:#4a93f2;letter-spacing:0.3px">MA1:61.76</div>
<div class="hdr" style="left:443.5px;color:#5ccb96;letter-spacing:0.3px">MA2:62.25</div>
<div class="hdr" style="left:512.5px;color:#4ab9ee;letter-spacing:0.3px">MA3:61.61</div>
<div class="hdr" style="left:581.5px;color:#ff8f45;letter-spacing:0.3px">MA4:62.74</div>
<div class="hdr" style="left:92px;top:403.7px;color:#111">RSI(14,14,14)</div>
<div class="hdr" style="left:171px;top:403.7px;color:#4a93f2">RSI1:44.93</div>
<div class="hdr" style="left:239px;top:403.7px;color:#5ccb96">RSI2:44.93</div>
<div class="hdr" style="left:307px;top:403.7px;color:#4ab9ee">RSI3:44.93</div>
<div class="hdr" style="left:92px;top:537.8px;color:#111">MACD(26,12,9)</div>
<div class="hdr" style="left:182px;top:537.8px;color:#4a93f2">DIFF:0.05</div>
<div class="hdr" style="left:242px;top:537.8px;color:#5ccb96">DEA:0.07</div>
<div class="hdr" style="left:301px;top:537.8px;color:#4ab9ee">MACD:-0.05</div>
<div class="bot"></div>
<div class="tab on" style="left:20px;width:40px">指标</div><div class="tab " style="left:60px;width:40px">模板</div><div class="tab vip" style="left:100px;width:58px"><span class="mono">VIP</span>指标</div><div class="tab m" style="left:158px;width:46px"><span class="mono">EXPMA</span></div><div class="tab m" style="left:204px;width:28px"><span class="mono">MA</span></div><div class="tab m" style="left:232px;width:40px"><span class="mono">MACD</span></div><div class="tab m" style="left:272px;width:28px"><span class="mono">PP</span></div><div class="tab m" style="left:300px;width:34px"><span class="mono">PPS</span></div><div class="tab m" style="left:334px;width:34px"><span class="mono">CCI</span></div><div class="tab m" style="left:368px;width:34px"><span class="mono">KDJ</span></div><div class="tab m" style="left:402px;width:34px"><span class="mono">RSI</span></div><div class="tab m" style="left:436px;width:28px"><span class="mono">CR</span></div><div class="tab m" style="left:464px;width:34px"><span class="mono">PSY</span></div><div class="tab m" style="left:498px;width:40px"><span class="mono">BOLL</span></div><div class="tab m" style="left:538px;width:34px"><span class="mono">VOL</span></div><div class="tab m" style="left:572px;width:100px"><span class="mono">ICHIMOKU CLOUD</span></div><div class="tab " style="left:672px;width:40px">设置</div>
<div class="per">120分 <span style="font-size:15px;line-height:10px;position:relative;top:-1px;left:-1.5px">▲</span></div>
</body></html>
